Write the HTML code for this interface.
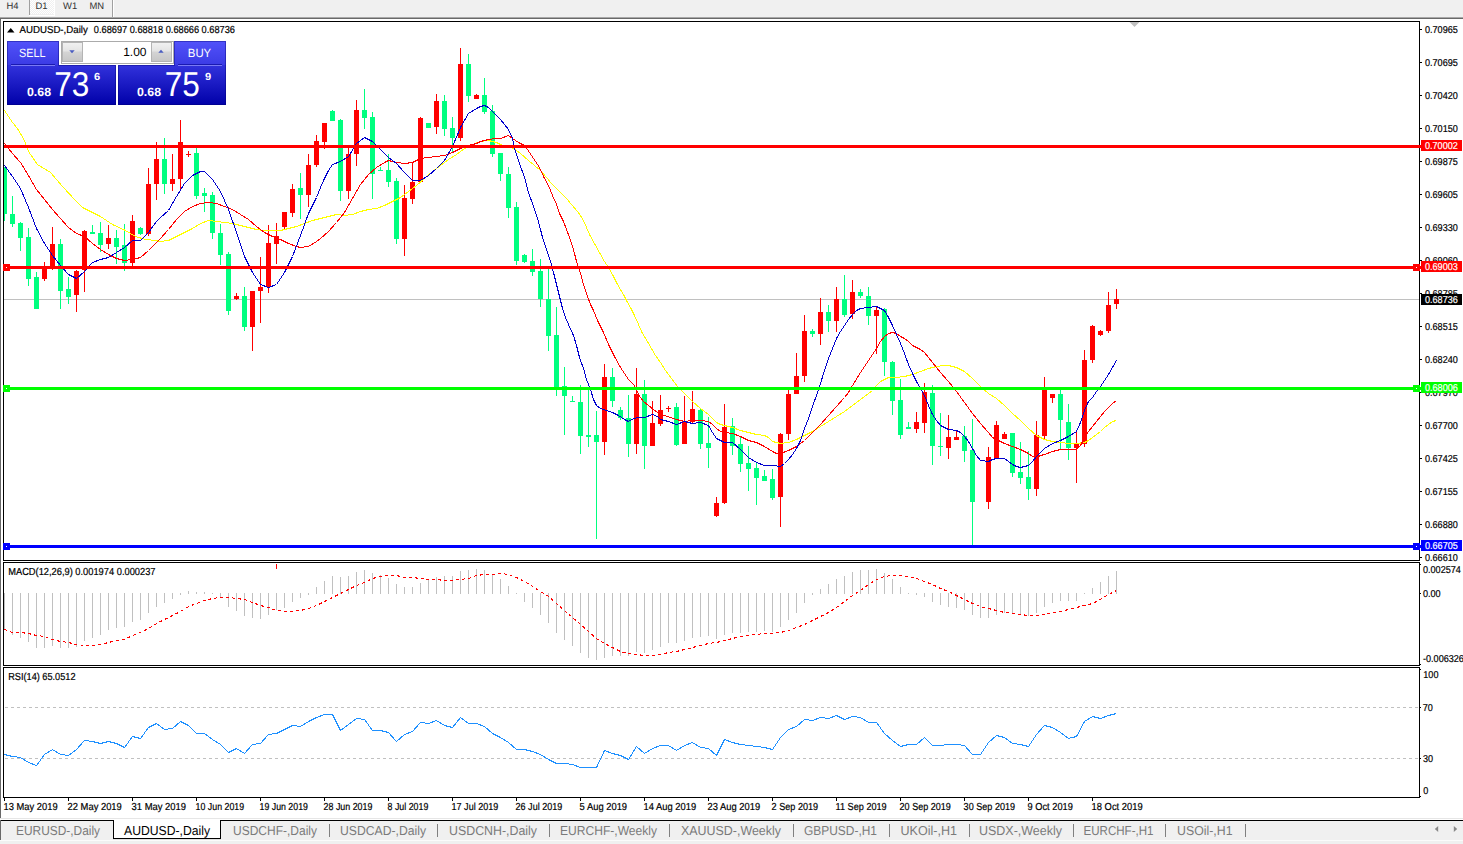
<!DOCTYPE html>
<html><head><meta charset="utf-8"><title>AUDUSD Daily</title>
<style>html,body{margin:0;padding:0;background:#fff;width:1463px;height:844px;overflow:hidden;font-family:"Liberation Sans",sans-serif}</style></head>
<body>
<svg width="1463" height="844" viewBox="0 0 1463 844" font-family="Liberation Sans, sans-serif" text-rendering="geometricPrecision" style="position:absolute;left:0;top:0;display:block">
<defs>
<linearGradient id="gbtn" x1="0" y1="0" x2="0" y2="1"><stop offset="0" stop-color="#5252fa"/><stop offset="1" stop-color="#3a3ae4"/></linearGradient>
<linearGradient id="gbig" x1="0" y1="0" x2="0" y2="1"><stop offset="0" stop-color="#3232dc"/><stop offset="1" stop-color="#0000a8"/></linearGradient>
<linearGradient id="gsp" x1="0" y1="0" x2="0" y2="1"><stop offset="0" stop-color="#f2f2f2"/><stop offset="0.45" stop-color="#e4e4e4"/><stop offset="0.5" stop-color="#d4d4d4"/><stop offset="1" stop-color="#c6c6c6"/></linearGradient>
</defs>
<g shape-rendering="crispEdges">
<rect x="0" y="0" width="1463" height="844" fill="#fff" />
<rect x="0" y="0" width="1463" height="17" fill="#f0f0f0" />
<rect x="0" y="17" width="1463" height="1" fill="#a8a8a8" />
<rect x="0" y="18" width="1463" height="1" fill="#696969" />
<rect x="29" y="0" width="1" height="15" fill="#a0a0a0" />
<pattern id="chk" x="0" y="0" width="2" height="2" patternUnits="userSpaceOnUse"><rect width="2" height="2" fill="#f0f0f0"/><rect x="0" y="0" width="1" height="1" fill="#fff"/><rect x="1" y="1" width="1" height="1" fill="#fff"/></pattern>
<rect x="30" y="0" width="24" height="14" fill="url(#chk)" />
<rect x="54" y="0" width="1" height="15" fill="#fff" />
<rect x="29" y="15" width="26" height="1" fill="#fff" />
<rect x="112" y="0" width="1" height="17" fill="#a0a0a0" />
<rect x="113" y="0" width="1" height="17" fill="#ffffff" />
<rect x="0" y="18" width="1" height="801" fill="#696969" />
<rect x="0" y="821" width="1463" height="23" fill="#f0f0f0" />
<rect x="0" y="818" width="1463" height="1" fill="#e6e6e6" />
<rect x="0" y="840" width="1463" height="1" fill="#fbfbfb" />
<rect x="4" y="299" width="1415" height="1" fill="#c0c0c0" />
<clipPath id="cc"><rect x="4" y="22" width="1415" height="538"/></clipPath><g clip-path="url(#cc)">
<rect x="4" y="167" width="1" height="54" fill="#00ff7f" />
<rect x="2" y="167" width="5" height="47" fill="#00ff7f" />
<rect x="12" y="196" width="1" height="31" fill="#00ff7f" />
<rect x="10" y="214" width="5" height="10" fill="#00ff7f" />
<rect x="20" y="222" width="1" height="29" fill="#00ff7f" />
<rect x="18" y="223" width="5" height="15" fill="#00ff7f" />
<rect x="28" y="228" width="1" height="58" fill="#00ff7f" />
<rect x="26" y="237" width="5" height="42" fill="#00ff7f" />
<rect x="36" y="272" width="1" height="37" fill="#00ff7f" />
<rect x="34" y="277" width="5" height="32" fill="#00ff7f" />
<rect x="44" y="262" width="1" height="19" fill="#ff0000" />
<rect x="42" y="269" width="5" height="10" fill="#ff0000" />
<rect x="52" y="227" width="1" height="43" fill="#ff0000" />
<rect x="50" y="244" width="5" height="25" fill="#ff0000" />
<rect x="60" y="239" width="1" height="70" fill="#00ff7f" />
<rect x="58" y="244" width="5" height="47" fill="#00ff7f" />
<rect x="68" y="277" width="1" height="27" fill="#00ff7f" />
<rect x="66" y="289" width="5" height="8" fill="#00ff7f" />
<rect x="76" y="270" width="1" height="42" fill="#ff0000" />
<rect x="74" y="271" width="5" height="24" fill="#ff0000" />
<rect x="84" y="230" width="1" height="62" fill="#ff0000" />
<rect x="82" y="231" width="5" height="39" fill="#ff0000" />
<rect x="92" y="225" width="1" height="9" fill="#00ff7f" />
<rect x="90" y="232" width="5" height="2" fill="#00ff7f" />
<rect x="100" y="222" width="1" height="30" fill="#00ff7f" />
<rect x="98" y="233" width="5" height="12" fill="#00ff7f" />
<rect x="108" y="225" width="1" height="24" fill="#ff0000" />
<rect x="106" y="238" width="5" height="6" fill="#ff0000" />
<rect x="116" y="230" width="1" height="34" fill="#00ff7f" />
<rect x="114" y="238" width="5" height="9" fill="#00ff7f" />
<rect x="124" y="224" width="1" height="47" fill="#00ff7f" />
<rect x="122" y="245" width="5" height="18" fill="#00ff7f" />
<rect x="132" y="215" width="1" height="51" fill="#ff0000" />
<rect x="130" y="221" width="5" height="42" fill="#ff0000" />
<rect x="140" y="227" width="1" height="8" fill="#00ff7f" />
<rect x="138" y="228" width="5" height="6" fill="#00ff7f" />
<rect x="148" y="168" width="1" height="68" fill="#ff0000" />
<rect x="146" y="184" width="5" height="50" fill="#ff0000" />
<rect x="156" y="142" width="1" height="58" fill="#ff0000" />
<rect x="154" y="159" width="5" height="25" fill="#ff0000" />
<rect x="164" y="138" width="1" height="56" fill="#00ff7f" />
<rect x="162" y="159" width="5" height="25" fill="#00ff7f" />
<rect x="172" y="154" width="1" height="37" fill="#ff0000" />
<rect x="170" y="179" width="5" height="5" fill="#ff0000" />
<rect x="180" y="120" width="1" height="71" fill="#ff0000" />
<rect x="178" y="142" width="5" height="37" fill="#ff0000" />
<rect x="188" y="151" width="1" height="6" fill="#ff0000" />
<rect x="186" y="154" width="5" height="1" fill="#ff0000" />
<rect x="196" y="148" width="1" height="51" fill="#00ff7f" />
<rect x="194" y="153" width="5" height="43" fill="#00ff7f" />
<rect x="204" y="188" width="1" height="24" fill="#00ff7f" />
<rect x="202" y="193" width="5" height="3" fill="#00ff7f" />
<rect x="212" y="192" width="1" height="47" fill="#00ff7f" />
<rect x="210" y="195" width="5" height="38" fill="#00ff7f" />
<rect x="220" y="224" width="1" height="41" fill="#00ff7f" />
<rect x="218" y="233" width="5" height="22" fill="#00ff7f" />
<rect x="228" y="252" width="1" height="63" fill="#00ff7f" />
<rect x="226" y="254" width="5" height="57" fill="#00ff7f" />
<rect x="236" y="293" width="1" height="7" fill="#ff0000" />
<rect x="234" y="296" width="5" height="3" fill="#ff0000" />
<rect x="244" y="287" width="1" height="44" fill="#00ff7f" />
<rect x="242" y="296" width="5" height="31" fill="#00ff7f" />
<rect x="252" y="291" width="1" height="60" fill="#ff0000" />
<rect x="250" y="291" width="5" height="36" fill="#ff0000" />
<rect x="260" y="257" width="1" height="66" fill="#ff0000" />
<rect x="258" y="287" width="5" height="4" fill="#ff0000" />
<rect x="268" y="225" width="1" height="68" fill="#ff0000" />
<rect x="266" y="243" width="5" height="44" fill="#ff0000" />
<rect x="276" y="223" width="1" height="41" fill="#ff0000" />
<rect x="274" y="236" width="5" height="8" fill="#ff0000" />
<rect x="284" y="212" width="1" height="18" fill="#ff0000" />
<rect x="282" y="212" width="5" height="15" fill="#ff0000" />
<rect x="292" y="184" width="1" height="33" fill="#ff0000" />
<rect x="290" y="189" width="5" height="24" fill="#ff0000" />
<rect x="300" y="173" width="1" height="46" fill="#00ff7f" />
<rect x="298" y="188" width="5" height="7" fill="#00ff7f" />
<rect x="308" y="154" width="1" height="53" fill="#ff0000" />
<rect x="306" y="165" width="5" height="30" fill="#ff0000" />
<rect x="316" y="135" width="1" height="32" fill="#ff0000" />
<rect x="314" y="141" width="5" height="24" fill="#ff0000" />
<rect x="324" y="123" width="1" height="26" fill="#ff0000" />
<rect x="322" y="123" width="5" height="19" fill="#ff0000" />
<rect x="332" y="110" width="1" height="11" fill="#00ff7f" />
<rect x="330" y="111" width="5" height="10" fill="#00ff7f" />
<rect x="340" y="119" width="1" height="82" fill="#00ff7f" />
<rect x="338" y="120" width="5" height="71" fill="#00ff7f" />
<rect x="348" y="148" width="1" height="51" fill="#ff0000" />
<rect x="346" y="154" width="5" height="37" fill="#ff0000" />
<rect x="356" y="100" width="1" height="66" fill="#ff0000" />
<rect x="354" y="110" width="5" height="44" fill="#ff0000" />
<rect x="364" y="89" width="1" height="40" fill="#00ff7f" />
<rect x="362" y="110" width="5" height="8" fill="#00ff7f" />
<rect x="372" y="112" width="1" height="87" fill="#00ff7f" />
<rect x="370" y="117" width="5" height="57" fill="#00ff7f" />
<rect x="380" y="167" width="1" height="3" fill="#00ff7f" />
<rect x="378" y="170" width="5" height="1" fill="#00ff7f" />
<rect x="388" y="154" width="1" height="33" fill="#00ff7f" />
<rect x="386" y="170" width="5" height="12" fill="#00ff7f" />
<rect x="396" y="178" width="1" height="66" fill="#00ff7f" />
<rect x="394" y="181" width="5" height="58" fill="#00ff7f" />
<rect x="404" y="185" width="1" height="71" fill="#ff0000" />
<rect x="402" y="198" width="5" height="41" fill="#ff0000" />
<rect x="412" y="162" width="1" height="42" fill="#ff0000" />
<rect x="410" y="182" width="5" height="17" fill="#ff0000" />
<rect x="420" y="117" width="1" height="65" fill="#ff0000" />
<rect x="418" y="118" width="5" height="64" fill="#ff0000" />
<rect x="428" y="123" width="1" height="5" fill="#00ff7f" />
<rect x="426" y="123" width="5" height="5" fill="#00ff7f" />
<rect x="436" y="94" width="1" height="40" fill="#ff0000" />
<rect x="434" y="101" width="5" height="26" fill="#ff0000" />
<rect x="444" y="95" width="1" height="41" fill="#00ff7f" />
<rect x="442" y="101" width="5" height="28" fill="#00ff7f" />
<rect x="452" y="117" width="1" height="35" fill="#00ff7f" />
<rect x="450" y="128" width="5" height="10" fill="#00ff7f" />
<rect x="460" y="48" width="1" height="93" fill="#ff0000" />
<rect x="458" y="64" width="5" height="74" fill="#ff0000" />
<rect x="468" y="54" width="1" height="48" fill="#00ff7f" />
<rect x="466" y="64" width="5" height="32" fill="#00ff7f" />
<rect x="476" y="94" width="1" height="5" fill="#ff0000" />
<rect x="474" y="95" width="5" height="4" fill="#ff0000" />
<rect x="484" y="78" width="1" height="36" fill="#00ff7f" />
<rect x="482" y="95" width="5" height="17" fill="#00ff7f" />
<rect x="492" y="105" width="1" height="52" fill="#00ff7f" />
<rect x="490" y="111" width="5" height="43" fill="#00ff7f" />
<rect x="500" y="153" width="1" height="28" fill="#00ff7f" />
<rect x="498" y="153" width="5" height="21" fill="#00ff7f" />
<rect x="508" y="167" width="1" height="51" fill="#00ff7f" />
<rect x="506" y="174" width="5" height="34" fill="#00ff7f" />
<rect x="516" y="202" width="1" height="63" fill="#00ff7f" />
<rect x="514" y="207" width="5" height="54" fill="#00ff7f" />
<rect x="524" y="254" width="1" height="9" fill="#00ff7f" />
<rect x="522" y="255" width="5" height="7" fill="#00ff7f" />
<rect x="532" y="249" width="1" height="27" fill="#00ff7f" />
<rect x="530" y="261" width="5" height="11" fill="#00ff7f" />
<rect x="540" y="259" width="1" height="48" fill="#00ff7f" />
<rect x="538" y="271" width="5" height="28" fill="#00ff7f" />
<rect x="548" y="268" width="1" height="83" fill="#00ff7f" />
<rect x="546" y="299" width="5" height="37" fill="#00ff7f" />
<rect x="556" y="307" width="1" height="89" fill="#00ff7f" />
<rect x="554" y="335" width="5" height="54" fill="#00ff7f" />
<rect x="564" y="367" width="1" height="68" fill="#00ff7f" />
<rect x="562" y="386" width="5" height="10" fill="#00ff7f" />
<rect x="572" y="396" width="1" height="6" fill="#00ff7f" />
<rect x="570" y="401" width="5" height="1" fill="#00ff7f" />
<rect x="580" y="385" width="1" height="69" fill="#00ff7f" />
<rect x="578" y="402" width="5" height="34" fill="#00ff7f" />
<rect x="588" y="389" width="1" height="58" fill="#00ff7f" />
<rect x="586" y="435" width="5" height="2" fill="#00ff7f" />
<rect x="596" y="411" width="1" height="128" fill="#00ff7f" />
<rect x="594" y="435" width="5" height="7" fill="#00ff7f" />
<rect x="604" y="364" width="1" height="91" fill="#ff0000" />
<rect x="602" y="377" width="5" height="65" fill="#ff0000" />
<rect x="612" y="368" width="1" height="39" fill="#00ff7f" />
<rect x="610" y="377" width="5" height="24" fill="#00ff7f" />
<rect x="620" y="407" width="1" height="13" fill="#00ff7f" />
<rect x="618" y="410" width="5" height="8" fill="#00ff7f" />
<rect x="628" y="395" width="1" height="62" fill="#00ff7f" />
<rect x="626" y="418" width="5" height="26" fill="#00ff7f" />
<rect x="636" y="368" width="1" height="86" fill="#ff0000" />
<rect x="634" y="394" width="5" height="50" fill="#ff0000" />
<rect x="644" y="380" width="1" height="89" fill="#00ff7f" />
<rect x="642" y="394" width="5" height="52" fill="#00ff7f" />
<rect x="652" y="401" width="1" height="45" fill="#ff0000" />
<rect x="650" y="423" width="5" height="23" fill="#ff0000" />
<rect x="660" y="395" width="1" height="31" fill="#ff0000" />
<rect x="658" y="410" width="5" height="14" fill="#ff0000" />
<rect x="668" y="406" width="1" height="6" fill="#ff0000" />
<rect x="666" y="408" width="5" height="1" fill="#ff0000" />
<rect x="676" y="403" width="1" height="43" fill="#00ff7f" />
<rect x="674" y="407" width="5" height="38" fill="#00ff7f" />
<rect x="684" y="396" width="1" height="48" fill="#ff0000" />
<rect x="682" y="422" width="5" height="22" fill="#ff0000" />
<rect x="692" y="391" width="1" height="32" fill="#ff0000" />
<rect x="690" y="409" width="5" height="13" fill="#ff0000" />
<rect x="700" y="408" width="1" height="41" fill="#00ff7f" />
<rect x="698" y="410" width="5" height="34" fill="#00ff7f" />
<rect x="708" y="417" width="1" height="51" fill="#00ff7f" />
<rect x="706" y="443" width="5" height="5" fill="#00ff7f" />
<rect x="716" y="497" width="1" height="20" fill="#ff0000" />
<rect x="714" y="503" width="5" height="13" fill="#ff0000" />
<rect x="724" y="404" width="1" height="100" fill="#ff0000" />
<rect x="722" y="427" width="5" height="76" fill="#ff0000" />
<rect x="732" y="418" width="1" height="37" fill="#00ff7f" />
<rect x="730" y="426" width="5" height="20" fill="#00ff7f" />
<rect x="740" y="436" width="1" height="36" fill="#00ff7f" />
<rect x="738" y="444" width="5" height="20" fill="#00ff7f" />
<rect x="748" y="446" width="1" height="45" fill="#00ff7f" />
<rect x="746" y="463" width="5" height="6" fill="#00ff7f" />
<rect x="756" y="463" width="1" height="42" fill="#00ff7f" />
<rect x="754" y="468" width="5" height="10" fill="#00ff7f" />
<rect x="764" y="470" width="1" height="11" fill="#00ff7f" />
<rect x="762" y="476" width="5" height="5" fill="#00ff7f" />
<rect x="772" y="469" width="1" height="31" fill="#00ff7f" />
<rect x="770" y="479" width="5" height="19" fill="#00ff7f" />
<rect x="780" y="433" width="1" height="94" fill="#ff0000" />
<rect x="778" y="434" width="5" height="63" fill="#ff0000" />
<rect x="788" y="390" width="1" height="50" fill="#ff0000" />
<rect x="786" y="394" width="5" height="40" fill="#ff0000" />
<rect x="796" y="353" width="1" height="41" fill="#ff0000" />
<rect x="794" y="376" width="5" height="18" fill="#ff0000" />
<rect x="804" y="315" width="1" height="67" fill="#ff0000" />
<rect x="802" y="331" width="5" height="45" fill="#ff0000" />
<rect x="812" y="329" width="1" height="8" fill="#00ff7f" />
<rect x="810" y="331" width="5" height="3" fill="#00ff7f" />
<rect x="820" y="298" width="1" height="47" fill="#ff0000" />
<rect x="818" y="312" width="5" height="22" fill="#ff0000" />
<rect x="828" y="305" width="1" height="27" fill="#00ff7f" />
<rect x="826" y="312" width="5" height="9" fill="#00ff7f" />
<rect x="836" y="287" width="1" height="45" fill="#ff0000" />
<rect x="834" y="299" width="5" height="22" fill="#ff0000" />
<rect x="844" y="275" width="1" height="42" fill="#00ff7f" />
<rect x="842" y="299" width="5" height="16" fill="#00ff7f" />
<rect x="852" y="280" width="1" height="39" fill="#ff0000" />
<rect x="850" y="292" width="5" height="22" fill="#ff0000" />
<rect x="860" y="289" width="1" height="9" fill="#00ff7f" />
<rect x="858" y="292" width="5" height="4" fill="#00ff7f" />
<rect x="868" y="287" width="1" height="38" fill="#00ff7f" />
<rect x="866" y="296" width="5" height="20" fill="#00ff7f" />
<rect x="876" y="306" width="1" height="48" fill="#ff0000" />
<rect x="874" y="310" width="5" height="6" fill="#ff0000" />
<rect x="884" y="308" width="1" height="68" fill="#00ff7f" />
<rect x="882" y="309" width="5" height="53" fill="#00ff7f" />
<rect x="892" y="361" width="1" height="54" fill="#00ff7f" />
<rect x="890" y="362" width="5" height="39" fill="#00ff7f" />
<rect x="900" y="379" width="1" height="60" fill="#00ff7f" />
<rect x="898" y="400" width="5" height="35" fill="#00ff7f" />
<rect x="908" y="422" width="1" height="7" fill="#00ff7f" />
<rect x="906" y="427" width="5" height="2" fill="#00ff7f" />
<rect x="916" y="412" width="1" height="21" fill="#ff0000" />
<rect x="914" y="422" width="5" height="7" fill="#ff0000" />
<rect x="924" y="383" width="1" height="50" fill="#ff0000" />
<rect x="922" y="392" width="5" height="31" fill="#ff0000" />
<rect x="932" y="385" width="1" height="80" fill="#00ff7f" />
<rect x="930" y="393" width="5" height="53" fill="#00ff7f" />
<rect x="940" y="413" width="1" height="43" fill="#00ff7f" />
<rect x="938" y="446" width="5" height="1" fill="#00ff7f" />
<rect x="948" y="415" width="1" height="44" fill="#ff0000" />
<rect x="946" y="437" width="5" height="11" fill="#ff0000" />
<rect x="956" y="430" width="1" height="10" fill="#ff0000" />
<rect x="954" y="437" width="5" height="3" fill="#ff0000" />
<rect x="964" y="426" width="1" height="36" fill="#00ff7f" />
<rect x="962" y="436" width="5" height="15" fill="#00ff7f" />
<rect x="972" y="419" width="1" height="126" fill="#00ff7f" />
<rect x="970" y="450" width="5" height="52" fill="#00ff7f" />
<rect x="988" y="447" width="1" height="62" fill="#ff0000" />
<rect x="986" y="457" width="5" height="45" fill="#ff0000" />
<rect x="996" y="421" width="1" height="37" fill="#ff0000" />
<rect x="994" y="425" width="5" height="33" fill="#ff0000" />
<rect x="1004" y="432" width="1" height="7" fill="#ff0000" />
<rect x="1002" y="434" width="5" height="5" fill="#ff0000" />
<rect x="1012" y="433" width="1" height="44" fill="#00ff7f" />
<rect x="1010" y="433" width="5" height="40" fill="#00ff7f" />
<rect x="1020" y="442" width="1" height="42" fill="#00ff7f" />
<rect x="1018" y="472" width="5" height="6" fill="#00ff7f" />
<rect x="1028" y="451" width="1" height="49" fill="#00ff7f" />
<rect x="1026" y="477" width="5" height="12" fill="#00ff7f" />
<rect x="1036" y="421" width="1" height="75" fill="#ff0000" />
<rect x="1034" y="435" width="5" height="54" fill="#ff0000" />
<rect x="1044" y="377" width="1" height="63" fill="#ff0000" />
<rect x="1042" y="389" width="5" height="47" fill="#ff0000" />
<rect x="1052" y="394" width="1" height="9" fill="#ff0000" />
<rect x="1050" y="394" width="5" height="4" fill="#ff0000" />
<rect x="1060" y="389" width="1" height="60" fill="#00ff7f" />
<rect x="1058" y="394" width="5" height="26" fill="#00ff7f" />
<rect x="1068" y="404" width="1" height="56" fill="#00ff7f" />
<rect x="1066" y="422" width="5" height="26" fill="#00ff7f" />
<rect x="1076" y="432" width="1" height="51" fill="#ff0000" />
<rect x="1074" y="443" width="5" height="5" fill="#ff0000" />
<rect x="1084" y="350" width="1" height="97" fill="#ff0000" />
<rect x="1082" y="360" width="5" height="84" fill="#ff0000" />
<rect x="1092" y="325" width="1" height="38" fill="#ff0000" />
<rect x="1090" y="326" width="5" height="34" fill="#ff0000" />
<rect x="1100" y="330" width="1" height="6" fill="#ff0000" />
<rect x="1098" y="331" width="5" height="4" fill="#ff0000" />
<rect x="1108" y="292" width="1" height="41" fill="#ff0000" />
<rect x="1106" y="305" width="5" height="26" fill="#ff0000" />
<rect x="1116" y="289" width="1" height="20" fill="#ff0000" />
<rect x="1114" y="299" width="5" height="5" fill="#ff0000" />
</g></g>
<clipPath id="cm"><rect x="4" y="22" width="1415" height="538"/></clipPath>
<g clip-path="url(#cm)">
<polyline points="4.5,110.5 12.5,122.5 17.5,128.5 24.5,140.5 28.5,151.5 37.5,164.5 50.5,172.5 62.5,186.5 75.5,200.5 82.5,207.5 100.5,216.5 112.5,224.5 125.5,230.5 135.5,236.5 145.5,239.5 155.5,240.5 160.5,241.5 168.5,240.5 176.5,236.5 184.5,232.5 192.5,228.5 200.5,223.5 208.5,220.5 216.5,221.5 224.5,222.5 232.5,223.5 240.5,225.5 248.5,227.5 256.5,229.5 264.5,230.5 272.5,230.5 280.5,230.5 288.5,228.5 296.5,226.5 304.5,223.5 312.5,220.5 320.5,218.5 328.5,216.5 336.5,214.5 344.5,215.5 352.5,214.5 360.5,211.5 368.5,209.5 376.5,208.5 384.5,205.5 392.5,201.5 400.5,197.5 408.5,191.5 416.5,185.5 424.5,178.5 432.5,171.5 440.5,165.5 448.5,159.5 456.5,154.5 464.5,148.5 472.5,144.5 480.5,141.5 488.5,140.5 496.5,142.5 500.5,144.5 513.5,148.5 520.5,153.5 528.5,160.5 534.5,165.5 540.5,170.5 546.5,177.5 551.5,183.5 555.5,187.5 560.5,192.5 566.5,198.5 571.5,204.5 577.5,211.5 582.5,218.5 586.5,227.5 589.5,234.5 594.5,243.5 599.5,252.5 604.5,261.5 608.5,267.5 612.5,274.5 616.5,282.5 620.5,289.5 624.5,296.5 627.5,302.5 630.5,307.5 634.5,315.5 638.5,324.5 642.5,333.5 647.5,341.5 651.5,348.5 655.5,355.5 660.5,362.5 665.5,370.5 671.5,378.5 677.5,386.5 684.5,393.5 692.5,401.5 700.5,408.5 708.5,414.5 712.5,418.5 716.5,422.5 720.5,424.5 724.5,425.5 732.5,427.5 740.5,430.5 748.5,432.5 756.5,434.5 764.5,435.5 768.5,437.5 772.5,441.5 780.5,443.5 788.5,442.5 796.5,439.5 804.5,435.5 812.5,431.5 820.5,426.5 828.5,421.5 836.5,416.5 844.5,411.5 852.5,405.5 860.5,399.5 868.5,393.5 872.5,390.5 876.5,385.5 880.5,381.5 884.5,379.5 888.5,377.5 896.5,377.5 904.5,376.5 912.5,374.5 920.5,371.5 928.5,368.5 936.5,366.5 944.5,365.5 948.5,365.5 956.5,367.5 964.5,371.5 972.5,378.5 980.5,386.5 988.5,393.5 996.5,398.5 1004.5,405.5 1012.5,413.5 1020.5,420.5 1028.5,428.5 1036.5,435.5 1044.5,439.5 1052.5,441.5 1060.5,442.5 1068.5,443.5 1076.5,443.5 1084.5,442.5 1088.5,440.5 1092.5,437.5 1096.5,434.5 1100.5,431.5 1104.5,427.5 1108.5,424.5 1112.5,421.5 1116.5,420.5" fill="none" stroke="#ffff00" stroke-width="1" shape-rendering="crispEdges"/>
<polyline points="4.5,143.5 8.5,148.5 12.5,153.5 20.5,162.5 28.5,175.5 36.5,189.5 44.5,199.5 52.5,209.5 60.5,218.5 68.5,227.5 76.5,233.5 84.5,236.5 92.5,243.5 100.5,249.5 108.5,254.5 116.5,258.5 124.5,260.5 132.5,259.5 140.5,257.5 148.5,250.5 156.5,242.5 160.5,238.5 168.5,229.5 176.5,219.5 184.5,211.5 192.5,206.5 200.5,203.5 208.5,202.5 216.5,203.5 224.5,206.5 232.5,209.5 240.5,214.5 248.5,219.5 256.5,226.5 264.5,232.5 272.5,236.5 280.5,239.5 288.5,243.5 296.5,246.5 300.5,247.5 308.5,246.5 316.5,241.5 320.5,238.5 328.5,231.5 336.5,222.5 344.5,212.5 352.5,198.5 360.5,184.5 368.5,174.5 376.5,167.5 384.5,162.5 388.5,160.5 396.5,162.5 404.5,163.5 412.5,162.5 420.5,158.5 428.5,157.5 436.5,156.5 444.5,155.5 452.5,152.5 460.5,148.5 468.5,145.5 476.5,143.5 480.5,141.5 488.5,139.5 496.5,138.5 500.5,138.5 508.5,135.5 512.5,138.5 518.5,142.5 524.5,145.5 527.5,149.5 531.5,155.5 535.5,161.5 539.5,167.5 543.5,176.5 548.5,185.5 552.5,195.5 556.5,204.5 559.5,213.5 563.5,221.5 566.5,229.5 569.5,237.5 573.5,249.5 576.5,261.5 580.5,273.5 583.5,284.5 587.5,296.5 590.5,304.5 593.5,310.5 597.5,320.5 603.5,332.5 608.5,344.5 614.5,356.5 620.5,367.5 624.5,373.5 628.5,379.5 634.5,385.5 637.5,392.5 640.5,397.5 643.5,401.5 648.5,405.5 653.5,409.5 660.5,414.5 667.5,416.5 676.5,419.5 684.5,421.5 692.5,420.5 700.5,420.5 708.5,421.5 712.5,424.5 716.5,428.5 720.5,431.5 724.5,432.5 732.5,433.5 740.5,436.5 748.5,440.5 756.5,442.5 764.5,446.5 772.5,451.5 776.5,453.5 780.5,453.5 788.5,450.5 796.5,446.5 804.5,440.5 812.5,432.5 820.5,424.5 828.5,415.5 836.5,406.5 844.5,397.5 848.5,392.5 852.5,385.5 860.5,372.5 868.5,360.5 876.5,348.5 880.5,341.5 884.5,336.5 888.5,333.5 892.5,332.5 896.5,333.5 900.5,336.5 904.5,338.5 908.5,341.5 912.5,345.5 916.5,347.5 920.5,349.5 924.5,352.5 928.5,357.5 932.5,362.5 936.5,367.5 940.5,372.5 948.5,381.5 956.5,391.5 964.5,402.5 972.5,413.5 980.5,423.5 988.5,432.5 992.5,437.5 996.5,439.5 1000.5,441.5 1004.5,443.5 1012.5,446.5 1020.5,449.5 1028.5,453.5 1032.5,456.5 1036.5,457.5 1040.5,455.5 1044.5,454.5 1052.5,451.5 1060.5,449.5 1068.5,449.5 1076.5,449.5 1080.5,445.5 1084.5,437.5 1088.5,431.5 1092.5,426.5 1096.5,421.5 1100.5,416.5 1104.5,411.5 1108.5,407.5 1112.5,403.5 1116.5,400.5" fill="none" stroke="#ff0000" stroke-width="1" shape-rendering="crispEdges"/>
<polyline points="4.5,165.5 12.5,176.5 20.5,188.5 28.5,207.5 36.5,228.5 44.5,243.5 52.5,255.5 60.5,265.5 68.5,274.5 76.5,278.5 84.5,271.5 92.5,262.5 100.5,259.5 108.5,257.5 116.5,252.5 124.5,247.5 132.5,240.5 140.5,240.5 148.5,232.5 156.5,221.5 160.5,217.5 168.5,210.5 176.5,196.5 184.5,183.5 192.5,175.5 200.5,171.5 204.5,171.5 212.5,179.5 220.5,191.5 228.5,209.5 236.5,232.5 244.5,256.5 252.5,272.5 260.5,284.5 268.5,287.5 276.5,284.5 284.5,272.5 292.5,256.5 300.5,235.5 308.5,213.5 316.5,197.5 320.5,187.5 324.5,178.5 328.5,170.5 332.5,164.5 340.5,161.5 348.5,156.5 356.5,143.5 364.5,137.5 372.5,141.5 380.5,149.5 388.5,157.5 396.5,163.5 404.5,172.5 412.5,180.5 420.5,180.5 428.5,175.5 436.5,168.5 444.5,160.5 452.5,146.5 460.5,127.5 468.5,113.5 476.5,108.5 480.5,106.5 484.5,105.5 488.5,107.5 492.5,111.5 500.5,119.5 508.5,129.5 512.5,138.5 514.5,148.5 519.5,163.5 524.5,177.5 528.5,192.5 533.5,206.5 537.5,218.5 540.5,229.5 542.5,237.5 546.5,249.5 550.5,261.5 553.5,272.5 556.5,284.5 559.5,296.5 562.5,308.5 565.5,317.5 568.5,324.5 573.5,335.5 576.5,345.5 579.5,357.5 583.5,368.5 586.5,379.5 590.5,389.5 593.5,399.5 596.5,405.5 600.5,408.5 606.5,410.5 612.5,412.5 618.5,415.5 624.5,419.5 628.5,421.5 631.5,419.5 637.5,417.5 644.5,417.5 652.5,414.5 657.5,416.5 660.5,419.5 668.5,421.5 676.5,424.5 684.5,421.5 692.5,423.5 700.5,422.5 708.5,425.5 712.5,432.5 716.5,438.5 720.5,440.5 724.5,442.5 732.5,442.5 740.5,449.5 748.5,457.5 756.5,462.5 764.5,465.5 772.5,465.5 780.5,466.5 784.5,463.5 788.5,459.5 792.5,454.5 796.5,448.5 800.5,440.5 804.5,428.5 808.5,418.5 812.5,406.5 816.5,395.5 820.5,383.5 824.5,370.5 828.5,358.5 832.5,348.5 836.5,338.5 840.5,331.5 844.5,325.5 848.5,319.5 852.5,314.5 856.5,310.5 860.5,308.5 868.5,307.5 876.5,306.5 880.5,308.5 884.5,310.5 888.5,317.5 892.5,325.5 896.5,334.5 900.5,343.5 904.5,353.5 908.5,364.5 912.5,373.5 916.5,381.5 920.5,388.5 924.5,395.5 928.5,405.5 932.5,414.5 936.5,420.5 940.5,425.5 944.5,427.5 948.5,429.5 956.5,430.5 960.5,432.5 964.5,436.5 968.5,441.5 972.5,448.5 976.5,455.5 980.5,460.5 988.5,461.5 992.5,459.5 996.5,458.5 1004.5,458.5 1008.5,461.5 1012.5,464.5 1016.5,466.5 1020.5,467.5 1024.5,466.5 1028.5,465.5 1032.5,461.5 1036.5,456.5 1044.5,448.5 1052.5,443.5 1060.5,440.5 1068.5,436.5 1076.5,431.5 1080.5,422.5 1084.5,410.5 1088.5,401.5 1092.5,397.5 1096.5,391.5 1100.5,386.5 1104.5,380.5 1108.5,374.5 1112.5,367.5 1116.5,360.5" fill="none" stroke="#0000cd" stroke-width="1" shape-rendering="crispEdges"/>
</g>
<g shape-rendering="crispEdges">
<rect x="3" y="21" width="1" height="777" fill="#000" />
<rect x="1419" y="21" width="1" height="777" fill="#000" />
<rect x="3" y="21" width="1417" height="1" fill="#000" />
<rect x="3" y="560" width="1417" height="1" fill="#000" />
<rect x="3" y="562" width="1417" height="1" fill="#000" />
<rect x="3" y="665" width="1417" height="1" fill="#000" />
<rect x="3" y="667" width="1417" height="1" fill="#000" />
<rect x="3" y="797" width="1417" height="1" fill="#000" />
<rect x="3" y="561" width="1" height="1" fill="#fff" />
<rect x="3" y="666" width="1" height="1" fill="#fff" />
<rect x="1419" y="561" width="1" height="1" fill="#fff" />
<rect x="1419" y="666" width="1" height="1" fill="#fff" />
<rect x="4" y="145" width="1417" height="3" fill="#ff0000" />
<rect x="4" y="266" width="1417" height="3" fill="#ff0000" />
<rect x="3" y="264" width="7" height="7" fill="#ff0000" />
<rect x="6" y="267" width="1" height="1" fill="#fff" />
<rect x="1413" y="264" width="7" height="7" fill="#ff0000" />
<rect x="1416" y="267" width="1" height="1" fill="#fff" />
<rect x="4" y="387" width="1417" height="3" fill="#00ff00" />
<rect x="3" y="385" width="7" height="7" fill="#00ff00" />
<rect x="6" y="388" width="1" height="1" fill="#fff" />
<rect x="1413" y="385" width="7" height="7" fill="#00ff00" />
<rect x="1416" y="388" width="1" height="1" fill="#fff" />
<rect x="4" y="545" width="1417" height="3" fill="#0000ff" />
<rect x="3" y="543" width="7" height="7" fill="#0000ff" />
<rect x="6" y="546" width="1" height="1" fill="#fff" />
<rect x="1413" y="543" width="7" height="7" fill="#0000ff" />
<rect x="1416" y="546" width="1" height="1" fill="#fff" />
<polygon points="1129.5,22 1139.5,22 1134.5,27" fill="#c0c0c0" shape-rendering="auto"/>
<rect x="1420" y="29" width="2" height="1" fill="#000" />
<rect x="1420" y="62" width="2" height="1" fill="#000" />
<rect x="1420" y="95" width="2" height="1" fill="#000" />
<rect x="1420" y="128" width="2" height="1" fill="#000" />
<rect x="1420" y="161" width="2" height="1" fill="#000" />
<rect x="1420" y="194" width="2" height="1" fill="#000" />
<rect x="1420" y="227" width="2" height="1" fill="#000" />
<rect x="1420" y="260" width="2" height="1" fill="#000" />
<rect x="1420" y="293" width="2" height="1" fill="#000" />
<rect x="1420" y="326" width="2" height="1" fill="#000" />
<rect x="1420" y="359" width="2" height="1" fill="#000" />
<rect x="1420" y="392" width="2" height="1" fill="#000" />
<rect x="1420" y="425" width="2" height="1" fill="#000" />
<rect x="1420" y="458" width="2" height="1" fill="#000" />
<rect x="1420" y="491" width="2" height="1" fill="#000" />
<rect x="1420" y="524" width="2" height="1" fill="#000" />
<rect x="1420" y="557" width="2" height="1" fill="#000" />
<rect x="4" y="593" width="1" height="37" fill="#c0c0c0" />
<rect x="12" y="593" width="1" height="42" fill="#c0c0c0" />
<rect x="20" y="593" width="1" height="45" fill="#c0c0c0" />
<rect x="28" y="593" width="1" height="49" fill="#c0c0c0" />
<rect x="36" y="593" width="1" height="55" fill="#c0c0c0" />
<rect x="44" y="593" width="1" height="55" fill="#c0c0c0" />
<rect x="52" y="593" width="1" height="53" fill="#c0c0c0" />
<rect x="60" y="593" width="1" height="55" fill="#c0c0c0" />
<rect x="68" y="593" width="1" height="55" fill="#c0c0c0" />
<rect x="76" y="593" width="1" height="54" fill="#c0c0c0" />
<rect x="84" y="593" width="1" height="48" fill="#c0c0c0" />
<rect x="92" y="593" width="1" height="45" fill="#c0c0c0" />
<rect x="100" y="593" width="1" height="42" fill="#c0c0c0" />
<rect x="108" y="593" width="1" height="37" fill="#c0c0c0" />
<rect x="116" y="593" width="1" height="35" fill="#c0c0c0" />
<rect x="124" y="593" width="1" height="34" fill="#c0c0c0" />
<rect x="132" y="593" width="1" height="29" fill="#c0c0c0" />
<rect x="140" y="593" width="1" height="27" fill="#c0c0c0" />
<rect x="148" y="593" width="1" height="20" fill="#c0c0c0" />
<rect x="156" y="593" width="1" height="14" fill="#c0c0c0" />
<rect x="164" y="593" width="1" height="10" fill="#c0c0c0" />
<rect x="172" y="593" width="1" height="6" fill="#c0c0c0" />
<rect x="180" y="593" width="1" height="2" fill="#c0c0c0" />
<rect x="188" y="591" width="1" height="3" fill="#c0c0c0" />
<rect x="196" y="592" width="1" height="2" fill="#c0c0c0" />
<rect x="204" y="592" width="1" height="2" fill="#c0c0c0" />
<rect x="212" y="593" width="1" height="1" fill="#c0c0c0" />
<rect x="220" y="593" width="1" height="4" fill="#c0c0c0" />
<rect x="228" y="593" width="1" height="14" fill="#c0c0c0" />
<rect x="236" y="593" width="1" height="18" fill="#c0c0c0" />
<rect x="244" y="593" width="1" height="23" fill="#c0c0c0" />
<rect x="252" y="593" width="1" height="25" fill="#c0c0c0" />
<rect x="260" y="593" width="1" height="26" fill="#c0c0c0" />
<rect x="268" y="593" width="1" height="22" fill="#c0c0c0" />
<rect x="276" y="593" width="1" height="17" fill="#c0c0c0" />
<rect x="284" y="593" width="1" height="15" fill="#c0c0c0" />
<rect x="292" y="593" width="1" height="9" fill="#c0c0c0" />
<rect x="300" y="593" width="1" height="5" fill="#c0c0c0" />
<rect x="308" y="593" width="1" height="2" fill="#c0c0c0" />
<rect x="316" y="587" width="1" height="7" fill="#c0c0c0" />
<rect x="324" y="581" width="1" height="13" fill="#c0c0c0" />
<rect x="332" y="576" width="1" height="18" fill="#c0c0c0" />
<rect x="340" y="577" width="1" height="17" fill="#c0c0c0" />
<rect x="348" y="576" width="1" height="18" fill="#c0c0c0" />
<rect x="356" y="572" width="1" height="22" fill="#c0c0c0" />
<rect x="364" y="570" width="1" height="24" fill="#c0c0c0" />
<rect x="372" y="573" width="1" height="21" fill="#c0c0c0" />
<rect x="380" y="575" width="1" height="19" fill="#c0c0c0" />
<rect x="388" y="578" width="1" height="16" fill="#c0c0c0" />
<rect x="396" y="584" width="1" height="10" fill="#c0c0c0" />
<rect x="404" y="587" width="1" height="7" fill="#c0c0c0" />
<rect x="412" y="587" width="1" height="7" fill="#c0c0c0" />
<rect x="420" y="583" width="1" height="11" fill="#c0c0c0" />
<rect x="428" y="580" width="1" height="14" fill="#c0c0c0" />
<rect x="436" y="577" width="1" height="17" fill="#c0c0c0" />
<rect x="444" y="576" width="1" height="18" fill="#c0c0c0" />
<rect x="452" y="576" width="1" height="18" fill="#c0c0c0" />
<rect x="460" y="571" width="1" height="23" fill="#c0c0c0" />
<rect x="468" y="570" width="1" height="24" fill="#c0c0c0" />
<rect x="476" y="569" width="1" height="25" fill="#c0c0c0" />
<rect x="484" y="570" width="1" height="24" fill="#c0c0c0" />
<rect x="492" y="574" width="1" height="20" fill="#c0c0c0" />
<rect x="500" y="579" width="1" height="15" fill="#c0c0c0" />
<rect x="508" y="586" width="1" height="8" fill="#c0c0c0" />
<rect x="516" y="593" width="1" height="1" fill="#c0c0c0" />
<rect x="524" y="593" width="1" height="9" fill="#c0c0c0" />
<rect x="532" y="593" width="1" height="15" fill="#c0c0c0" />
<rect x="540" y="593" width="1" height="22" fill="#c0c0c0" />
<rect x="548" y="593" width="1" height="30" fill="#c0c0c0" />
<rect x="556" y="593" width="1" height="40" fill="#c0c0c0" />
<rect x="564" y="593" width="1" height="47" fill="#c0c0c0" />
<rect x="572" y="593" width="1" height="53" fill="#c0c0c0" />
<rect x="580" y="593" width="1" height="60" fill="#c0c0c0" />
<rect x="588" y="593" width="1" height="65" fill="#c0c0c0" />
<rect x="596" y="593" width="1" height="67" fill="#c0c0c0" />
<rect x="604" y="593" width="1" height="65" fill="#c0c0c0" />
<rect x="612" y="593" width="1" height="63" fill="#c0c0c0" />
<rect x="620" y="593" width="1" height="63" fill="#c0c0c0" />
<rect x="628" y="593" width="1" height="63" fill="#c0c0c0" />
<rect x="636" y="593" width="1" height="59" fill="#c0c0c0" />
<rect x="644" y="593" width="1" height="60" fill="#c0c0c0" />
<rect x="652" y="593" width="1" height="57" fill="#c0c0c0" />
<rect x="660" y="593" width="1" height="54" fill="#c0c0c0" />
<rect x="668" y="593" width="1" height="50" fill="#c0c0c0" />
<rect x="676" y="593" width="1" height="50" fill="#c0c0c0" />
<rect x="684" y="593" width="1" height="48" fill="#c0c0c0" />
<rect x="692" y="593" width="1" height="45" fill="#c0c0c0" />
<rect x="700" y="593" width="1" height="44" fill="#c0c0c0" />
<rect x="708" y="593" width="1" height="43" fill="#c0c0c0" />
<rect x="716" y="593" width="1" height="46" fill="#c0c0c0" />
<rect x="724" y="593" width="1" height="42" fill="#c0c0c0" />
<rect x="732" y="593" width="1" height="40" fill="#c0c0c0" />
<rect x="740" y="593" width="1" height="40" fill="#c0c0c0" />
<rect x="748" y="593" width="1" height="39" fill="#c0c0c0" />
<rect x="756" y="593" width="1" height="39" fill="#c0c0c0" />
<rect x="764" y="593" width="1" height="38" fill="#c0c0c0" />
<rect x="772" y="593" width="1" height="39" fill="#c0c0c0" />
<rect x="780" y="593" width="1" height="34" fill="#c0c0c0" />
<rect x="788" y="593" width="1" height="27" fill="#c0c0c0" />
<rect x="796" y="593" width="1" height="20" fill="#c0c0c0" />
<rect x="804" y="593" width="1" height="10" fill="#c0c0c0" />
<rect x="812" y="593" width="1" height="2" fill="#c0c0c0" />
<rect x="820" y="589" width="1" height="5" fill="#c0c0c0" />
<rect x="828" y="584" width="1" height="10" fill="#c0c0c0" />
<rect x="836" y="579" width="1" height="15" fill="#c0c0c0" />
<rect x="844" y="576" width="1" height="18" fill="#c0c0c0" />
<rect x="852" y="572" width="1" height="22" fill="#c0c0c0" />
<rect x="860" y="570" width="1" height="24" fill="#c0c0c0" />
<rect x="868" y="570" width="1" height="24" fill="#c0c0c0" />
<rect x="876" y="569" width="1" height="25" fill="#c0c0c0" />
<rect x="884" y="573" width="1" height="21" fill="#c0c0c0" />
<rect x="892" y="579" width="1" height="15" fill="#c0c0c0" />
<rect x="900" y="587" width="1" height="7" fill="#c0c0c0" />
<rect x="908" y="593" width="1" height="1" fill="#c0c0c0" />
<rect x="916" y="593" width="1" height="2" fill="#c0c0c0" />
<rect x="924" y="593" width="1" height="4" fill="#c0c0c0" />
<rect x="932" y="593" width="1" height="9" fill="#c0c0c0" />
<rect x="940" y="593" width="1" height="12" fill="#c0c0c0" />
<rect x="948" y="593" width="1" height="14" fill="#c0c0c0" />
<rect x="956" y="593" width="1" height="15" fill="#c0c0c0" />
<rect x="964" y="593" width="1" height="17" fill="#c0c0c0" />
<rect x="972" y="593" width="1" height="22" fill="#c0c0c0" />
<rect x="980" y="593" width="1" height="25" fill="#c0c0c0" />
<rect x="988" y="593" width="1" height="25" fill="#c0c0c0" />
<rect x="996" y="593" width="1" height="22" fill="#c0c0c0" />
<rect x="1004" y="593" width="1" height="20" fill="#c0c0c0" />
<rect x="1012" y="593" width="1" height="21" fill="#c0c0c0" />
<rect x="1020" y="593" width="1" height="22" fill="#c0c0c0" />
<rect x="1028" y="593" width="1" height="23" fill="#c0c0c0" />
<rect x="1036" y="593" width="1" height="20" fill="#c0c0c0" />
<rect x="1044" y="593" width="1" height="14" fill="#c0c0c0" />
<rect x="1052" y="593" width="1" height="10" fill="#c0c0c0" />
<rect x="1060" y="593" width="1" height="8" fill="#c0c0c0" />
<rect x="1068" y="593" width="1" height="8" fill="#c0c0c0" />
<rect x="1076" y="593" width="1" height="8" fill="#c0c0c0" />
<rect x="1084" y="593" width="1" height="1" fill="#c0c0c0" />
<rect x="1092" y="588" width="1" height="6" fill="#c0c0c0" />
<rect x="1100" y="582" width="1" height="12" fill="#c0c0c0" />
<rect x="1108" y="576" width="1" height="18" fill="#c0c0c0" />
<rect x="1116" y="571" width="1" height="23" fill="#c0c0c0" />
<rect x="276" y="564" width="1" height="5" fill="#ff0000" />
<rect x="1420" y="564" width="1" height="1" fill="#000" />
<rect x="1420" y="593" width="1" height="1" fill="#000" />
<rect x="1420" y="664" width="1" height="1" fill="#000" />
<rect x="1420" y="669" width="1" height="1" fill="#000" />
<rect x="1420" y="707" width="1" height="1" fill="#000" />
<rect x="1420" y="758" width="1" height="1" fill="#000" />
<rect x="1420" y="796" width="1" height="1" fill="#000" />
<rect x="5" y="707" width="3" height="1" fill="#c0c0c0" />
<rect x="11" y="707" width="3" height="1" fill="#c0c0c0" />
<rect x="17" y="707" width="3" height="1" fill="#c0c0c0" />
<rect x="23" y="707" width="3" height="1" fill="#c0c0c0" />
<rect x="29" y="707" width="3" height="1" fill="#c0c0c0" />
<rect x="35" y="707" width="3" height="1" fill="#c0c0c0" />
<rect x="41" y="707" width="3" height="1" fill="#c0c0c0" />
<rect x="47" y="707" width="3" height="1" fill="#c0c0c0" />
<rect x="53" y="707" width="3" height="1" fill="#c0c0c0" />
<rect x="59" y="707" width="3" height="1" fill="#c0c0c0" />
<rect x="65" y="707" width="3" height="1" fill="#c0c0c0" />
<rect x="71" y="707" width="3" height="1" fill="#c0c0c0" />
<rect x="77" y="707" width="3" height="1" fill="#c0c0c0" />
<rect x="83" y="707" width="3" height="1" fill="#c0c0c0" />
<rect x="89" y="707" width="3" height="1" fill="#c0c0c0" />
<rect x="95" y="707" width="3" height="1" fill="#c0c0c0" />
<rect x="101" y="707" width="3" height="1" fill="#c0c0c0" />
<rect x="107" y="707" width="3" height="1" fill="#c0c0c0" />
<rect x="113" y="707" width="3" height="1" fill="#c0c0c0" />
<rect x="119" y="707" width="3" height="1" fill="#c0c0c0" />
<rect x="125" y="707" width="3" height="1" fill="#c0c0c0" />
<rect x="131" y="707" width="3" height="1" fill="#c0c0c0" />
<rect x="137" y="707" width="3" height="1" fill="#c0c0c0" />
<rect x="143" y="707" width="3" height="1" fill="#c0c0c0" />
<rect x="149" y="707" width="3" height="1" fill="#c0c0c0" />
<rect x="155" y="707" width="3" height="1" fill="#c0c0c0" />
<rect x="161" y="707" width="3" height="1" fill="#c0c0c0" />
<rect x="167" y="707" width="3" height="1" fill="#c0c0c0" />
<rect x="173" y="707" width="3" height="1" fill="#c0c0c0" />
<rect x="179" y="707" width="3" height="1" fill="#c0c0c0" />
<rect x="185" y="707" width="3" height="1" fill="#c0c0c0" />
<rect x="191" y="707" width="3" height="1" fill="#c0c0c0" />
<rect x="197" y="707" width="3" height="1" fill="#c0c0c0" />
<rect x="203" y="707" width="3" height="1" fill="#c0c0c0" />
<rect x="209" y="707" width="3" height="1" fill="#c0c0c0" />
<rect x="215" y="707" width="3" height="1" fill="#c0c0c0" />
<rect x="221" y="707" width="3" height="1" fill="#c0c0c0" />
<rect x="227" y="707" width="3" height="1" fill="#c0c0c0" />
<rect x="233" y="707" width="3" height="1" fill="#c0c0c0" />
<rect x="239" y="707" width="3" height="1" fill="#c0c0c0" />
<rect x="245" y="707" width="3" height="1" fill="#c0c0c0" />
<rect x="251" y="707" width="3" height="1" fill="#c0c0c0" />
<rect x="257" y="707" width="3" height="1" fill="#c0c0c0" />
<rect x="263" y="707" width="3" height="1" fill="#c0c0c0" />
<rect x="269" y="707" width="3" height="1" fill="#c0c0c0" />
<rect x="275" y="707" width="3" height="1" fill="#c0c0c0" />
<rect x="281" y="707" width="3" height="1" fill="#c0c0c0" />
<rect x="287" y="707" width="3" height="1" fill="#c0c0c0" />
<rect x="293" y="707" width="3" height="1" fill="#c0c0c0" />
<rect x="299" y="707" width="3" height="1" fill="#c0c0c0" />
<rect x="305" y="707" width="3" height="1" fill="#c0c0c0" />
<rect x="311" y="707" width="3" height="1" fill="#c0c0c0" />
<rect x="317" y="707" width="3" height="1" fill="#c0c0c0" />
<rect x="323" y="707" width="3" height="1" fill="#c0c0c0" />
<rect x="329" y="707" width="3" height="1" fill="#c0c0c0" />
<rect x="335" y="707" width="3" height="1" fill="#c0c0c0" />
<rect x="341" y="707" width="3" height="1" fill="#c0c0c0" />
<rect x="347" y="707" width="3" height="1" fill="#c0c0c0" />
<rect x="353" y="707" width="3" height="1" fill="#c0c0c0" />
<rect x="359" y="707" width="3" height="1" fill="#c0c0c0" />
<rect x="365" y="707" width="3" height="1" fill="#c0c0c0" />
<rect x="371" y="707" width="3" height="1" fill="#c0c0c0" />
<rect x="377" y="707" width="3" height="1" fill="#c0c0c0" />
<rect x="383" y="707" width="3" height="1" fill="#c0c0c0" />
<rect x="389" y="707" width="3" height="1" fill="#c0c0c0" />
<rect x="395" y="707" width="3" height="1" fill="#c0c0c0" />
<rect x="401" y="707" width="3" height="1" fill="#c0c0c0" />
<rect x="407" y="707" width="3" height="1" fill="#c0c0c0" />
<rect x="413" y="707" width="3" height="1" fill="#c0c0c0" />
<rect x="419" y="707" width="3" height="1" fill="#c0c0c0" />
<rect x="425" y="707" width="3" height="1" fill="#c0c0c0" />
<rect x="431" y="707" width="3" height="1" fill="#c0c0c0" />
<rect x="437" y="707" width="3" height="1" fill="#c0c0c0" />
<rect x="443" y="707" width="3" height="1" fill="#c0c0c0" />
<rect x="449" y="707" width="3" height="1" fill="#c0c0c0" />
<rect x="455" y="707" width="3" height="1" fill="#c0c0c0" />
<rect x="461" y="707" width="3" height="1" fill="#c0c0c0" />
<rect x="467" y="707" width="3" height="1" fill="#c0c0c0" />
<rect x="473" y="707" width="3" height="1" fill="#c0c0c0" />
<rect x="479" y="707" width="3" height="1" fill="#c0c0c0" />
<rect x="485" y="707" width="3" height="1" fill="#c0c0c0" />
<rect x="491" y="707" width="3" height="1" fill="#c0c0c0" />
<rect x="497" y="707" width="3" height="1" fill="#c0c0c0" />
<rect x="503" y="707" width="3" height="1" fill="#c0c0c0" />
<rect x="509" y="707" width="3" height="1" fill="#c0c0c0" />
<rect x="515" y="707" width="3" height="1" fill="#c0c0c0" />
<rect x="521" y="707" width="3" height="1" fill="#c0c0c0" />
<rect x="527" y="707" width="3" height="1" fill="#c0c0c0" />
<rect x="533" y="707" width="3" height="1" fill="#c0c0c0" />
<rect x="539" y="707" width="3" height="1" fill="#c0c0c0" />
<rect x="545" y="707" width="3" height="1" fill="#c0c0c0" />
<rect x="551" y="707" width="3" height="1" fill="#c0c0c0" />
<rect x="557" y="707" width="3" height="1" fill="#c0c0c0" />
<rect x="563" y="707" width="3" height="1" fill="#c0c0c0" />
<rect x="569" y="707" width="3" height="1" fill="#c0c0c0" />
<rect x="575" y="707" width="3" height="1" fill="#c0c0c0" />
<rect x="581" y="707" width="3" height="1" fill="#c0c0c0" />
<rect x="587" y="707" width="3" height="1" fill="#c0c0c0" />
<rect x="593" y="707" width="3" height="1" fill="#c0c0c0" />
<rect x="599" y="707" width="3" height="1" fill="#c0c0c0" />
<rect x="605" y="707" width="3" height="1" fill="#c0c0c0" />
<rect x="611" y="707" width="3" height="1" fill="#c0c0c0" />
<rect x="617" y="707" width="3" height="1" fill="#c0c0c0" />
<rect x="623" y="707" width="3" height="1" fill="#c0c0c0" />
<rect x="629" y="707" width="3" height="1" fill="#c0c0c0" />
<rect x="635" y="707" width="3" height="1" fill="#c0c0c0" />
<rect x="641" y="707" width="3" height="1" fill="#c0c0c0" />
<rect x="647" y="707" width="3" height="1" fill="#c0c0c0" />
<rect x="653" y="707" width="3" height="1" fill="#c0c0c0" />
<rect x="659" y="707" width="3" height="1" fill="#c0c0c0" />
<rect x="665" y="707" width="3" height="1" fill="#c0c0c0" />
<rect x="671" y="707" width="3" height="1" fill="#c0c0c0" />
<rect x="677" y="707" width="3" height="1" fill="#c0c0c0" />
<rect x="683" y="707" width="3" height="1" fill="#c0c0c0" />
<rect x="689" y="707" width="3" height="1" fill="#c0c0c0" />
<rect x="695" y="707" width="3" height="1" fill="#c0c0c0" />
<rect x="701" y="707" width="3" height="1" fill="#c0c0c0" />
<rect x="707" y="707" width="3" height="1" fill="#c0c0c0" />
<rect x="713" y="707" width="3" height="1" fill="#c0c0c0" />
<rect x="719" y="707" width="3" height="1" fill="#c0c0c0" />
<rect x="725" y="707" width="3" height="1" fill="#c0c0c0" />
<rect x="731" y="707" width="3" height="1" fill="#c0c0c0" />
<rect x="737" y="707" width="3" height="1" fill="#c0c0c0" />
<rect x="743" y="707" width="3" height="1" fill="#c0c0c0" />
<rect x="749" y="707" width="3" height="1" fill="#c0c0c0" />
<rect x="755" y="707" width="3" height="1" fill="#c0c0c0" />
<rect x="761" y="707" width="3" height="1" fill="#c0c0c0" />
<rect x="767" y="707" width="3" height="1" fill="#c0c0c0" />
<rect x="773" y="707" width="3" height="1" fill="#c0c0c0" />
<rect x="779" y="707" width="3" height="1" fill="#c0c0c0" />
<rect x="785" y="707" width="3" height="1" fill="#c0c0c0" />
<rect x="791" y="707" width="3" height="1" fill="#c0c0c0" />
<rect x="797" y="707" width="3" height="1" fill="#c0c0c0" />
<rect x="803" y="707" width="3" height="1" fill="#c0c0c0" />
<rect x="809" y="707" width="3" height="1" fill="#c0c0c0" />
<rect x="815" y="707" width="3" height="1" fill="#c0c0c0" />
<rect x="821" y="707" width="3" height="1" fill="#c0c0c0" />
<rect x="827" y="707" width="3" height="1" fill="#c0c0c0" />
<rect x="833" y="707" width="3" height="1" fill="#c0c0c0" />
<rect x="839" y="707" width="3" height="1" fill="#c0c0c0" />
<rect x="845" y="707" width="3" height="1" fill="#c0c0c0" />
<rect x="851" y="707" width="3" height="1" fill="#c0c0c0" />
<rect x="857" y="707" width="3" height="1" fill="#c0c0c0" />
<rect x="863" y="707" width="3" height="1" fill="#c0c0c0" />
<rect x="869" y="707" width="3" height="1" fill="#c0c0c0" />
<rect x="875" y="707" width="3" height="1" fill="#c0c0c0" />
<rect x="881" y="707" width="3" height="1" fill="#c0c0c0" />
<rect x="887" y="707" width="3" height="1" fill="#c0c0c0" />
<rect x="893" y="707" width="3" height="1" fill="#c0c0c0" />
<rect x="899" y="707" width="3" height="1" fill="#c0c0c0" />
<rect x="905" y="707" width="3" height="1" fill="#c0c0c0" />
<rect x="911" y="707" width="3" height="1" fill="#c0c0c0" />
<rect x="917" y="707" width="3" height="1" fill="#c0c0c0" />
<rect x="923" y="707" width="3" height="1" fill="#c0c0c0" />
<rect x="929" y="707" width="3" height="1" fill="#c0c0c0" />
<rect x="935" y="707" width="3" height="1" fill="#c0c0c0" />
<rect x="941" y="707" width="3" height="1" fill="#c0c0c0" />
<rect x="947" y="707" width="3" height="1" fill="#c0c0c0" />
<rect x="953" y="707" width="3" height="1" fill="#c0c0c0" />
<rect x="959" y="707" width="3" height="1" fill="#c0c0c0" />
<rect x="965" y="707" width="3" height="1" fill="#c0c0c0" />
<rect x="971" y="707" width="3" height="1" fill="#c0c0c0" />
<rect x="977" y="707" width="3" height="1" fill="#c0c0c0" />
<rect x="983" y="707" width="3" height="1" fill="#c0c0c0" />
<rect x="989" y="707" width="3" height="1" fill="#c0c0c0" />
<rect x="995" y="707" width="3" height="1" fill="#c0c0c0" />
<rect x="1001" y="707" width="3" height="1" fill="#c0c0c0" />
<rect x="1007" y="707" width="3" height="1" fill="#c0c0c0" />
<rect x="1013" y="707" width="3" height="1" fill="#c0c0c0" />
<rect x="1019" y="707" width="3" height="1" fill="#c0c0c0" />
<rect x="1025" y="707" width="3" height="1" fill="#c0c0c0" />
<rect x="1031" y="707" width="3" height="1" fill="#c0c0c0" />
<rect x="1037" y="707" width="3" height="1" fill="#c0c0c0" />
<rect x="1043" y="707" width="3" height="1" fill="#c0c0c0" />
<rect x="1049" y="707" width="3" height="1" fill="#c0c0c0" />
<rect x="1055" y="707" width="3" height="1" fill="#c0c0c0" />
<rect x="1061" y="707" width="3" height="1" fill="#c0c0c0" />
<rect x="1067" y="707" width="3" height="1" fill="#c0c0c0" />
<rect x="1073" y="707" width="3" height="1" fill="#c0c0c0" />
<rect x="1079" y="707" width="3" height="1" fill="#c0c0c0" />
<rect x="1085" y="707" width="3" height="1" fill="#c0c0c0" />
<rect x="1091" y="707" width="3" height="1" fill="#c0c0c0" />
<rect x="1097" y="707" width="3" height="1" fill="#c0c0c0" />
<rect x="1103" y="707" width="3" height="1" fill="#c0c0c0" />
<rect x="1109" y="707" width="3" height="1" fill="#c0c0c0" />
<rect x="1115" y="707" width="3" height="1" fill="#c0c0c0" />
<rect x="1121" y="707" width="3" height="1" fill="#c0c0c0" />
<rect x="1127" y="707" width="3" height="1" fill="#c0c0c0" />
<rect x="1133" y="707" width="3" height="1" fill="#c0c0c0" />
<rect x="1139" y="707" width="3" height="1" fill="#c0c0c0" />
<rect x="1145" y="707" width="3" height="1" fill="#c0c0c0" />
<rect x="1151" y="707" width="3" height="1" fill="#c0c0c0" />
<rect x="1157" y="707" width="3" height="1" fill="#c0c0c0" />
<rect x="1163" y="707" width="3" height="1" fill="#c0c0c0" />
<rect x="1169" y="707" width="3" height="1" fill="#c0c0c0" />
<rect x="1175" y="707" width="3" height="1" fill="#c0c0c0" />
<rect x="1181" y="707" width="3" height="1" fill="#c0c0c0" />
<rect x="1187" y="707" width="3" height="1" fill="#c0c0c0" />
<rect x="1193" y="707" width="3" height="1" fill="#c0c0c0" />
<rect x="1199" y="707" width="3" height="1" fill="#c0c0c0" />
<rect x="1205" y="707" width="3" height="1" fill="#c0c0c0" />
<rect x="1211" y="707" width="3" height="1" fill="#c0c0c0" />
<rect x="1217" y="707" width="3" height="1" fill="#c0c0c0" />
<rect x="1223" y="707" width="3" height="1" fill="#c0c0c0" />
<rect x="1229" y="707" width="3" height="1" fill="#c0c0c0" />
<rect x="1235" y="707" width="3" height="1" fill="#c0c0c0" />
<rect x="1241" y="707" width="3" height="1" fill="#c0c0c0" />
<rect x="1247" y="707" width="3" height="1" fill="#c0c0c0" />
<rect x="1253" y="707" width="3" height="1" fill="#c0c0c0" />
<rect x="1259" y="707" width="3" height="1" fill="#c0c0c0" />
<rect x="1265" y="707" width="3" height="1" fill="#c0c0c0" />
<rect x="1271" y="707" width="3" height="1" fill="#c0c0c0" />
<rect x="1277" y="707" width="3" height="1" fill="#c0c0c0" />
<rect x="1283" y="707" width="3" height="1" fill="#c0c0c0" />
<rect x="1289" y="707" width="3" height="1" fill="#c0c0c0" />
<rect x="1295" y="707" width="3" height="1" fill="#c0c0c0" />
<rect x="1301" y="707" width="3" height="1" fill="#c0c0c0" />
<rect x="1307" y="707" width="3" height="1" fill="#c0c0c0" />
<rect x="1313" y="707" width="3" height="1" fill="#c0c0c0" />
<rect x="1319" y="707" width="3" height="1" fill="#c0c0c0" />
<rect x="1325" y="707" width="3" height="1" fill="#c0c0c0" />
<rect x="1331" y="707" width="3" height="1" fill="#c0c0c0" />
<rect x="1337" y="707" width="3" height="1" fill="#c0c0c0" />
<rect x="1343" y="707" width="3" height="1" fill="#c0c0c0" />
<rect x="1349" y="707" width="3" height="1" fill="#c0c0c0" />
<rect x="1355" y="707" width="3" height="1" fill="#c0c0c0" />
<rect x="1361" y="707" width="3" height="1" fill="#c0c0c0" />
<rect x="1367" y="707" width="3" height="1" fill="#c0c0c0" />
<rect x="1373" y="707" width="3" height="1" fill="#c0c0c0" />
<rect x="1379" y="707" width="3" height="1" fill="#c0c0c0" />
<rect x="1385" y="707" width="3" height="1" fill="#c0c0c0" />
<rect x="1391" y="707" width="3" height="1" fill="#c0c0c0" />
<rect x="1397" y="707" width="3" height="1" fill="#c0c0c0" />
<rect x="1403" y="707" width="3" height="1" fill="#c0c0c0" />
<rect x="1409" y="707" width="3" height="1" fill="#c0c0c0" />
<rect x="1415" y="707" width="3" height="1" fill="#c0c0c0" />
<rect x="5" y="758" width="3" height="1" fill="#c0c0c0" />
<rect x="11" y="758" width="3" height="1" fill="#c0c0c0" />
<rect x="17" y="758" width="3" height="1" fill="#c0c0c0" />
<rect x="23" y="758" width="3" height="1" fill="#c0c0c0" />
<rect x="29" y="758" width="3" height="1" fill="#c0c0c0" />
<rect x="35" y="758" width="3" height="1" fill="#c0c0c0" />
<rect x="41" y="758" width="3" height="1" fill="#c0c0c0" />
<rect x="47" y="758" width="3" height="1" fill="#c0c0c0" />
<rect x="53" y="758" width="3" height="1" fill="#c0c0c0" />
<rect x="59" y="758" width="3" height="1" fill="#c0c0c0" />
<rect x="65" y="758" width="3" height="1" fill="#c0c0c0" />
<rect x="71" y="758" width="3" height="1" fill="#c0c0c0" />
<rect x="77" y="758" width="3" height="1" fill="#c0c0c0" />
<rect x="83" y="758" width="3" height="1" fill="#c0c0c0" />
<rect x="89" y="758" width="3" height="1" fill="#c0c0c0" />
<rect x="95" y="758" width="3" height="1" fill="#c0c0c0" />
<rect x="101" y="758" width="3" height="1" fill="#c0c0c0" />
<rect x="107" y="758" width="3" height="1" fill="#c0c0c0" />
<rect x="113" y="758" width="3" height="1" fill="#c0c0c0" />
<rect x="119" y="758" width="3" height="1" fill="#c0c0c0" />
<rect x="125" y="758" width="3" height="1" fill="#c0c0c0" />
<rect x="131" y="758" width="3" height="1" fill="#c0c0c0" />
<rect x="137" y="758" width="3" height="1" fill="#c0c0c0" />
<rect x="143" y="758" width="3" height="1" fill="#c0c0c0" />
<rect x="149" y="758" width="3" height="1" fill="#c0c0c0" />
<rect x="155" y="758" width="3" height="1" fill="#c0c0c0" />
<rect x="161" y="758" width="3" height="1" fill="#c0c0c0" />
<rect x="167" y="758" width="3" height="1" fill="#c0c0c0" />
<rect x="173" y="758" width="3" height="1" fill="#c0c0c0" />
<rect x="179" y="758" width="3" height="1" fill="#c0c0c0" />
<rect x="185" y="758" width="3" height="1" fill="#c0c0c0" />
<rect x="191" y="758" width="3" height="1" fill="#c0c0c0" />
<rect x="197" y="758" width="3" height="1" fill="#c0c0c0" />
<rect x="203" y="758" width="3" height="1" fill="#c0c0c0" />
<rect x="209" y="758" width="3" height="1" fill="#c0c0c0" />
<rect x="215" y="758" width="3" height="1" fill="#c0c0c0" />
<rect x="221" y="758" width="3" height="1" fill="#c0c0c0" />
<rect x="227" y="758" width="3" height="1" fill="#c0c0c0" />
<rect x="233" y="758" width="3" height="1" fill="#c0c0c0" />
<rect x="239" y="758" width="3" height="1" fill="#c0c0c0" />
<rect x="245" y="758" width="3" height="1" fill="#c0c0c0" />
<rect x="251" y="758" width="3" height="1" fill="#c0c0c0" />
<rect x="257" y="758" width="3" height="1" fill="#c0c0c0" />
<rect x="263" y="758" width="3" height="1" fill="#c0c0c0" />
<rect x="269" y="758" width="3" height="1" fill="#c0c0c0" />
<rect x="275" y="758" width="3" height="1" fill="#c0c0c0" />
<rect x="281" y="758" width="3" height="1" fill="#c0c0c0" />
<rect x="287" y="758" width="3" height="1" fill="#c0c0c0" />
<rect x="293" y="758" width="3" height="1" fill="#c0c0c0" />
<rect x="299" y="758" width="3" height="1" fill="#c0c0c0" />
<rect x="305" y="758" width="3" height="1" fill="#c0c0c0" />
<rect x="311" y="758" width="3" height="1" fill="#c0c0c0" />
<rect x="317" y="758" width="3" height="1" fill="#c0c0c0" />
<rect x="323" y="758" width="3" height="1" fill="#c0c0c0" />
<rect x="329" y="758" width="3" height="1" fill="#c0c0c0" />
<rect x="335" y="758" width="3" height="1" fill="#c0c0c0" />
<rect x="341" y="758" width="3" height="1" fill="#c0c0c0" />
<rect x="347" y="758" width="3" height="1" fill="#c0c0c0" />
<rect x="353" y="758" width="3" height="1" fill="#c0c0c0" />
<rect x="359" y="758" width="3" height="1" fill="#c0c0c0" />
<rect x="365" y="758" width="3" height="1" fill="#c0c0c0" />
<rect x="371" y="758" width="3" height="1" fill="#c0c0c0" />
<rect x="377" y="758" width="3" height="1" fill="#c0c0c0" />
<rect x="383" y="758" width="3" height="1" fill="#c0c0c0" />
<rect x="389" y="758" width="3" height="1" fill="#c0c0c0" />
<rect x="395" y="758" width="3" height="1" fill="#c0c0c0" />
<rect x="401" y="758" width="3" height="1" fill="#c0c0c0" />
<rect x="407" y="758" width="3" height="1" fill="#c0c0c0" />
<rect x="413" y="758" width="3" height="1" fill="#c0c0c0" />
<rect x="419" y="758" width="3" height="1" fill="#c0c0c0" />
<rect x="425" y="758" width="3" height="1" fill="#c0c0c0" />
<rect x="431" y="758" width="3" height="1" fill="#c0c0c0" />
<rect x="437" y="758" width="3" height="1" fill="#c0c0c0" />
<rect x="443" y="758" width="3" height="1" fill="#c0c0c0" />
<rect x="449" y="758" width="3" height="1" fill="#c0c0c0" />
<rect x="455" y="758" width="3" height="1" fill="#c0c0c0" />
<rect x="461" y="758" width="3" height="1" fill="#c0c0c0" />
<rect x="467" y="758" width="3" height="1" fill="#c0c0c0" />
<rect x="473" y="758" width="3" height="1" fill="#c0c0c0" />
<rect x="479" y="758" width="3" height="1" fill="#c0c0c0" />
<rect x="485" y="758" width="3" height="1" fill="#c0c0c0" />
<rect x="491" y="758" width="3" height="1" fill="#c0c0c0" />
<rect x="497" y="758" width="3" height="1" fill="#c0c0c0" />
<rect x="503" y="758" width="3" height="1" fill="#c0c0c0" />
<rect x="509" y="758" width="3" height="1" fill="#c0c0c0" />
<rect x="515" y="758" width="3" height="1" fill="#c0c0c0" />
<rect x="521" y="758" width="3" height="1" fill="#c0c0c0" />
<rect x="527" y="758" width="3" height="1" fill="#c0c0c0" />
<rect x="533" y="758" width="3" height="1" fill="#c0c0c0" />
<rect x="539" y="758" width="3" height="1" fill="#c0c0c0" />
<rect x="545" y="758" width="3" height="1" fill="#c0c0c0" />
<rect x="551" y="758" width="3" height="1" fill="#c0c0c0" />
<rect x="557" y="758" width="3" height="1" fill="#c0c0c0" />
<rect x="563" y="758" width="3" height="1" fill="#c0c0c0" />
<rect x="569" y="758" width="3" height="1" fill="#c0c0c0" />
<rect x="575" y="758" width="3" height="1" fill="#c0c0c0" />
<rect x="581" y="758" width="3" height="1" fill="#c0c0c0" />
<rect x="587" y="758" width="3" height="1" fill="#c0c0c0" />
<rect x="593" y="758" width="3" height="1" fill="#c0c0c0" />
<rect x="599" y="758" width="3" height="1" fill="#c0c0c0" />
<rect x="605" y="758" width="3" height="1" fill="#c0c0c0" />
<rect x="611" y="758" width="3" height="1" fill="#c0c0c0" />
<rect x="617" y="758" width="3" height="1" fill="#c0c0c0" />
<rect x="623" y="758" width="3" height="1" fill="#c0c0c0" />
<rect x="629" y="758" width="3" height="1" fill="#c0c0c0" />
<rect x="635" y="758" width="3" height="1" fill="#c0c0c0" />
<rect x="641" y="758" width="3" height="1" fill="#c0c0c0" />
<rect x="647" y="758" width="3" height="1" fill="#c0c0c0" />
<rect x="653" y="758" width="3" height="1" fill="#c0c0c0" />
<rect x="659" y="758" width="3" height="1" fill="#c0c0c0" />
<rect x="665" y="758" width="3" height="1" fill="#c0c0c0" />
<rect x="671" y="758" width="3" height="1" fill="#c0c0c0" />
<rect x="677" y="758" width="3" height="1" fill="#c0c0c0" />
<rect x="683" y="758" width="3" height="1" fill="#c0c0c0" />
<rect x="689" y="758" width="3" height="1" fill="#c0c0c0" />
<rect x="695" y="758" width="3" height="1" fill="#c0c0c0" />
<rect x="701" y="758" width="3" height="1" fill="#c0c0c0" />
<rect x="707" y="758" width="3" height="1" fill="#c0c0c0" />
<rect x="713" y="758" width="3" height="1" fill="#c0c0c0" />
<rect x="719" y="758" width="3" height="1" fill="#c0c0c0" />
<rect x="725" y="758" width="3" height="1" fill="#c0c0c0" />
<rect x="731" y="758" width="3" height="1" fill="#c0c0c0" />
<rect x="737" y="758" width="3" height="1" fill="#c0c0c0" />
<rect x="743" y="758" width="3" height="1" fill="#c0c0c0" />
<rect x="749" y="758" width="3" height="1" fill="#c0c0c0" />
<rect x="755" y="758" width="3" height="1" fill="#c0c0c0" />
<rect x="761" y="758" width="3" height="1" fill="#c0c0c0" />
<rect x="767" y="758" width="3" height="1" fill="#c0c0c0" />
<rect x="773" y="758" width="3" height="1" fill="#c0c0c0" />
<rect x="779" y="758" width="3" height="1" fill="#c0c0c0" />
<rect x="785" y="758" width="3" height="1" fill="#c0c0c0" />
<rect x="791" y="758" width="3" height="1" fill="#c0c0c0" />
<rect x="797" y="758" width="3" height="1" fill="#c0c0c0" />
<rect x="803" y="758" width="3" height="1" fill="#c0c0c0" />
<rect x="809" y="758" width="3" height="1" fill="#c0c0c0" />
<rect x="815" y="758" width="3" height="1" fill="#c0c0c0" />
<rect x="821" y="758" width="3" height="1" fill="#c0c0c0" />
<rect x="827" y="758" width="3" height="1" fill="#c0c0c0" />
<rect x="833" y="758" width="3" height="1" fill="#c0c0c0" />
<rect x="839" y="758" width="3" height="1" fill="#c0c0c0" />
<rect x="845" y="758" width="3" height="1" fill="#c0c0c0" />
<rect x="851" y="758" width="3" height="1" fill="#c0c0c0" />
<rect x="857" y="758" width="3" height="1" fill="#c0c0c0" />
<rect x="863" y="758" width="3" height="1" fill="#c0c0c0" />
<rect x="869" y="758" width="3" height="1" fill="#c0c0c0" />
<rect x="875" y="758" width="3" height="1" fill="#c0c0c0" />
<rect x="881" y="758" width="3" height="1" fill="#c0c0c0" />
<rect x="887" y="758" width="3" height="1" fill="#c0c0c0" />
<rect x="893" y="758" width="3" height="1" fill="#c0c0c0" />
<rect x="899" y="758" width="3" height="1" fill="#c0c0c0" />
<rect x="905" y="758" width="3" height="1" fill="#c0c0c0" />
<rect x="911" y="758" width="3" height="1" fill="#c0c0c0" />
<rect x="917" y="758" width="3" height="1" fill="#c0c0c0" />
<rect x="923" y="758" width="3" height="1" fill="#c0c0c0" />
<rect x="929" y="758" width="3" height="1" fill="#c0c0c0" />
<rect x="935" y="758" width="3" height="1" fill="#c0c0c0" />
<rect x="941" y="758" width="3" height="1" fill="#c0c0c0" />
<rect x="947" y="758" width="3" height="1" fill="#c0c0c0" />
<rect x="953" y="758" width="3" height="1" fill="#c0c0c0" />
<rect x="959" y="758" width="3" height="1" fill="#c0c0c0" />
<rect x="965" y="758" width="3" height="1" fill="#c0c0c0" />
<rect x="971" y="758" width="3" height="1" fill="#c0c0c0" />
<rect x="977" y="758" width="3" height="1" fill="#c0c0c0" />
<rect x="983" y="758" width="3" height="1" fill="#c0c0c0" />
<rect x="989" y="758" width="3" height="1" fill="#c0c0c0" />
<rect x="995" y="758" width="3" height="1" fill="#c0c0c0" />
<rect x="1001" y="758" width="3" height="1" fill="#c0c0c0" />
<rect x="1007" y="758" width="3" height="1" fill="#c0c0c0" />
<rect x="1013" y="758" width="3" height="1" fill="#c0c0c0" />
<rect x="1019" y="758" width="3" height="1" fill="#c0c0c0" />
<rect x="1025" y="758" width="3" height="1" fill="#c0c0c0" />
<rect x="1031" y="758" width="3" height="1" fill="#c0c0c0" />
<rect x="1037" y="758" width="3" height="1" fill="#c0c0c0" />
<rect x="1043" y="758" width="3" height="1" fill="#c0c0c0" />
<rect x="1049" y="758" width="3" height="1" fill="#c0c0c0" />
<rect x="1055" y="758" width="3" height="1" fill="#c0c0c0" />
<rect x="1061" y="758" width="3" height="1" fill="#c0c0c0" />
<rect x="1067" y="758" width="3" height="1" fill="#c0c0c0" />
<rect x="1073" y="758" width="3" height="1" fill="#c0c0c0" />
<rect x="1079" y="758" width="3" height="1" fill="#c0c0c0" />
<rect x="1085" y="758" width="3" height="1" fill="#c0c0c0" />
<rect x="1091" y="758" width="3" height="1" fill="#c0c0c0" />
<rect x="1097" y="758" width="3" height="1" fill="#c0c0c0" />
<rect x="1103" y="758" width="3" height="1" fill="#c0c0c0" />
<rect x="1109" y="758" width="3" height="1" fill="#c0c0c0" />
<rect x="1115" y="758" width="3" height="1" fill="#c0c0c0" />
<rect x="1121" y="758" width="3" height="1" fill="#c0c0c0" />
<rect x="1127" y="758" width="3" height="1" fill="#c0c0c0" />
<rect x="1133" y="758" width="3" height="1" fill="#c0c0c0" />
<rect x="1139" y="758" width="3" height="1" fill="#c0c0c0" />
<rect x="1145" y="758" width="3" height="1" fill="#c0c0c0" />
<rect x="1151" y="758" width="3" height="1" fill="#c0c0c0" />
<rect x="1157" y="758" width="3" height="1" fill="#c0c0c0" />
<rect x="1163" y="758" width="3" height="1" fill="#c0c0c0" />
<rect x="1169" y="758" width="3" height="1" fill="#c0c0c0" />
<rect x="1175" y="758" width="3" height="1" fill="#c0c0c0" />
<rect x="1181" y="758" width="3" height="1" fill="#c0c0c0" />
<rect x="1187" y="758" width="3" height="1" fill="#c0c0c0" />
<rect x="1193" y="758" width="3" height="1" fill="#c0c0c0" />
<rect x="1199" y="758" width="3" height="1" fill="#c0c0c0" />
<rect x="1205" y="758" width="3" height="1" fill="#c0c0c0" />
<rect x="1211" y="758" width="3" height="1" fill="#c0c0c0" />
<rect x="1217" y="758" width="3" height="1" fill="#c0c0c0" />
<rect x="1223" y="758" width="3" height="1" fill="#c0c0c0" />
<rect x="1229" y="758" width="3" height="1" fill="#c0c0c0" />
<rect x="1235" y="758" width="3" height="1" fill="#c0c0c0" />
<rect x="1241" y="758" width="3" height="1" fill="#c0c0c0" />
<rect x="1247" y="758" width="3" height="1" fill="#c0c0c0" />
<rect x="1253" y="758" width="3" height="1" fill="#c0c0c0" />
<rect x="1259" y="758" width="3" height="1" fill="#c0c0c0" />
<rect x="1265" y="758" width="3" height="1" fill="#c0c0c0" />
<rect x="1271" y="758" width="3" height="1" fill="#c0c0c0" />
<rect x="1277" y="758" width="3" height="1" fill="#c0c0c0" />
<rect x="1283" y="758" width="3" height="1" fill="#c0c0c0" />
<rect x="1289" y="758" width="3" height="1" fill="#c0c0c0" />
<rect x="1295" y="758" width="3" height="1" fill="#c0c0c0" />
<rect x="1301" y="758" width="3" height="1" fill="#c0c0c0" />
<rect x="1307" y="758" width="3" height="1" fill="#c0c0c0" />
<rect x="1313" y="758" width="3" height="1" fill="#c0c0c0" />
<rect x="1319" y="758" width="3" height="1" fill="#c0c0c0" />
<rect x="1325" y="758" width="3" height="1" fill="#c0c0c0" />
<rect x="1331" y="758" width="3" height="1" fill="#c0c0c0" />
<rect x="1337" y="758" width="3" height="1" fill="#c0c0c0" />
<rect x="1343" y="758" width="3" height="1" fill="#c0c0c0" />
<rect x="1349" y="758" width="3" height="1" fill="#c0c0c0" />
<rect x="1355" y="758" width="3" height="1" fill="#c0c0c0" />
<rect x="1361" y="758" width="3" height="1" fill="#c0c0c0" />
<rect x="1367" y="758" width="3" height="1" fill="#c0c0c0" />
<rect x="1373" y="758" width="3" height="1" fill="#c0c0c0" />
<rect x="1379" y="758" width="3" height="1" fill="#c0c0c0" />
<rect x="1385" y="758" width="3" height="1" fill="#c0c0c0" />
<rect x="1391" y="758" width="3" height="1" fill="#c0c0c0" />
<rect x="1397" y="758" width="3" height="1" fill="#c0c0c0" />
<rect x="1403" y="758" width="3" height="1" fill="#c0c0c0" />
<rect x="1409" y="758" width="3" height="1" fill="#c0c0c0" />
<rect x="1415" y="758" width="3" height="1" fill="#c0c0c0" />
<rect x="4" y="797" width="1" height="4" fill="#000" />
<rect x="68" y="797" width="1" height="4" fill="#000" />
<rect x="132" y="797" width="1" height="4" fill="#000" />
<rect x="196" y="797" width="1" height="4" fill="#000" />
<rect x="260" y="797" width="1" height="4" fill="#000" />
<rect x="324" y="797" width="1" height="4" fill="#000" />
<rect x="388" y="797" width="1" height="4" fill="#000" />
<rect x="452" y="797" width="1" height="4" fill="#000" />
<rect x="516" y="797" width="1" height="4" fill="#000" />
<rect x="580" y="797" width="1" height="4" fill="#000" />
<rect x="644" y="797" width="1" height="4" fill="#000" />
<rect x="708" y="797" width="1" height="4" fill="#000" />
<rect x="772" y="797" width="1" height="4" fill="#000" />
<rect x="836" y="797" width="1" height="4" fill="#000" />
<rect x="900" y="797" width="1" height="4" fill="#000" />
<rect x="964" y="797" width="1" height="4" fill="#000" />
<rect x="1028" y="797" width="1" height="4" fill="#000" />
<rect x="1092" y="797" width="1" height="4" fill="#000" />
</g>
<polyline points="4.5,629.5 12.5,632.5 20.5,632.5 28.5,633.5 36.5,635.5 44.5,636.5 52.5,639.5 60.5,641.5 68.5,642.5 76.5,644.5 84.5,645.5 92.5,645.5 100.5,644.5 108.5,642.5 116.5,640.5 124.5,639.5 132.5,635.5 140.5,632.5 148.5,628.5 156.5,623.5 164.5,619.5 172.5,615.5 180.5,611.5 188.5,606.5 196.5,603.5 204.5,600.5 212.5,598.5 220.5,597.5 228.5,597.5 236.5,598.5 244.5,599.5 252.5,602.5 260.5,605.5 268.5,607.5 276.5,610.5 284.5,611.5 292.5,611.5 300.5,610.5 308.5,608.5 316.5,605.5 324.5,601.5 332.5,597.5 340.5,593.5 348.5,589.5 356.5,585.5 364.5,582.5 372.5,578.5 380.5,576.5 388.5,575.5 396.5,575.5 404.5,577.5 412.5,577.5 420.5,578.5 428.5,579.5 436.5,579.5 444.5,580.5 452.5,580.5 460.5,579.5 468.5,578.5 476.5,575.5 484.5,574.5 492.5,574.5 500.5,573.5 508.5,574.5 516.5,577.5 524.5,581.5 532.5,586.5 540.5,591.5 548.5,596.5 556.5,603.5 564.5,610.5 572.5,617.5 580.5,624.5 588.5,631.5 596.5,638.5 604.5,643.5 612.5,647.5 620.5,651.5 628.5,653.5 636.5,654.5 644.5,655.5 652.5,655.5 660.5,654.5 668.5,652.5 676.5,651.5 684.5,649.5 692.5,647.5 700.5,645.5 708.5,643.5 716.5,642.5 724.5,640.5 732.5,638.5 740.5,636.5 748.5,635.5 756.5,634.5 764.5,633.5 772.5,633.5 780.5,632.5 788.5,630.5 796.5,627.5 804.5,624.5 812.5,620.5 820.5,616.5 828.5,612.5 836.5,607.5 844.5,601.5 852.5,595.5 860.5,590.5 868.5,584.5 876.5,579.5 884.5,576.5 892.5,575.5 900.5,575.5 908.5,576.5 916.5,578.5 924.5,581.5 932.5,584.5 940.5,588.5 948.5,591.5 956.5,595.5 964.5,599.5 972.5,603.5 980.5,606.5 988.5,608.5 996.5,610.5 1004.5,612.5 1012.5,613.5 1020.5,614.5 1028.5,615.5 1036.5,615.5 1044.5,614.5 1052.5,612.5 1060.5,611.5 1068.5,609.5 1076.5,607.5 1084.5,605.5 1092.5,603.5 1100.5,599.5 1108.5,594.5 1116.5,590.5" fill="none" stroke="#ff0000" stroke-width="1" stroke-dasharray="3 3" shape-rendering="crispEdges"/>
<polyline points="4.5,754.5 12.5,756.5 20.5,757.5 28.5,762.5 36.5,765.5 44.5,754.5 52.5,749.5 60.5,754.5 68.5,755.5 76.5,749.5 84.5,740.5 92.5,741.5 100.5,743.5 108.5,741.5 116.5,743.5 124.5,747.5 132.5,736.5 140.5,738.5 148.5,727.5 156.5,723.5 164.5,729.5 172.5,728.5 180.5,721.5 188.5,725.5 196.5,733.5 204.5,733.5 212.5,739.5 220.5,744.5 228.5,752.5 236.5,748.5 244.5,753.5 252.5,744.5 260.5,743.5 268.5,734.5 276.5,733.5 284.5,729.5 292.5,725.5 300.5,726.5 308.5,721.5 316.5,717.5 324.5,714.5 332.5,714.5 340.5,730.5 348.5,724.5 356.5,718.5 364.5,719.5 372.5,730.5 380.5,730.5 388.5,732.5 396.5,741.5 404.5,734.5 412.5,731.5 420.5,722.5 428.5,723.5 436.5,720.5 444.5,725.5 452.5,727.5 460.5,717.5 468.5,723.5 476.5,723.5 484.5,726.5 492.5,733.5 500.5,737.5 508.5,742.5 516.5,749.5 524.5,749.5 532.5,751.5 540.5,754.5 548.5,759.5 556.5,763.5 564.5,763.5 572.5,764.5 580.5,767.5 588.5,767.5 596.5,767.5 604.5,750.5 612.5,753.5 620.5,755.5 628.5,759.5 636.5,746.5 644.5,753.5 652.5,748.5 660.5,745.5 668.5,745.5 676.5,750.5 684.5,745.5 692.5,742.5 700.5,747.5 708.5,748.5 716.5,755.5 724.5,739.5 732.5,742.5 740.5,744.5 748.5,745.5 756.5,746.5 764.5,747.5 772.5,749.5 780.5,737.5 788.5,729.5 796.5,726.5 804.5,719.5 812.5,720.5 820.5,717.5 828.5,718.5 836.5,715.5 844.5,719.5 852.5,716.5 860.5,717.5 868.5,722.5 876.5,722.5 884.5,733.5 892.5,740.5 900.5,746.5 908.5,744.5 916.5,744.5 924.5,737.5 932.5,745.5 940.5,745.5 948.5,744.5 956.5,744.5 964.5,745.5 972.5,754.5 980.5,754.5 988.5,742.5 996.5,735.5 1004.5,737.5 1012.5,743.5 1020.5,744.5 1028.5,746.5 1036.5,734.5 1044.5,725.5 1052.5,727.5 1060.5,732.5 1068.5,738.5 1076.5,736.5 1084.5,721.5 1092.5,716.5 1100.5,718.5 1108.5,715.5 1116.5,713.5" fill="none" stroke="#1e90ff" stroke-width="1" shape-rendering="crispEdges"/>
<text transform="translate(1425,33) scale(0.908,1)" font-size="10.0" fill="#000" font-weight="normal" text-anchor="start"  stroke="#000" stroke-width="0.2">0.70965</text>
<text transform="translate(1425,66) scale(0.908,1)" font-size="10.0" fill="#000" font-weight="normal" text-anchor="start"  stroke="#000" stroke-width="0.2">0.70695</text>
<text transform="translate(1425,99) scale(0.908,1)" font-size="10.0" fill="#000" font-weight="normal" text-anchor="start"  stroke="#000" stroke-width="0.2">0.70420</text>
<text transform="translate(1425,132) scale(0.908,1)" font-size="10.0" fill="#000" font-weight="normal" text-anchor="start"  stroke="#000" stroke-width="0.2">0.70150</text>
<text transform="translate(1425,165) scale(0.908,1)" font-size="10.0" fill="#000" font-weight="normal" text-anchor="start"  stroke="#000" stroke-width="0.2">0.69875</text>
<text transform="translate(1425,198) scale(0.908,1)" font-size="10.0" fill="#000" font-weight="normal" text-anchor="start"  stroke="#000" stroke-width="0.2">0.69605</text>
<text transform="translate(1425,231) scale(0.908,1)" font-size="10.0" fill="#000" font-weight="normal" text-anchor="start"  stroke="#000" stroke-width="0.2">0.69330</text>
<text transform="translate(1425,264) scale(0.908,1)" font-size="10.0" fill="#000" font-weight="normal" text-anchor="start"  stroke="#000" stroke-width="0.2">0.69060</text>
<text transform="translate(1425,297) scale(0.908,1)" font-size="10.0" fill="#000" font-weight="normal" text-anchor="start"  stroke="#000" stroke-width="0.2">0.68785</text>
<text transform="translate(1425,330) scale(0.908,1)" font-size="10.0" fill="#000" font-weight="normal" text-anchor="start"  stroke="#000" stroke-width="0.2">0.68515</text>
<text transform="translate(1425,363) scale(0.908,1)" font-size="10.0" fill="#000" font-weight="normal" text-anchor="start"  stroke="#000" stroke-width="0.2">0.68240</text>
<text transform="translate(1425,396) scale(0.908,1)" font-size="10.0" fill="#000" font-weight="normal" text-anchor="start"  stroke="#000" stroke-width="0.2">0.67970</text>
<text transform="translate(1425,429) scale(0.908,1)" font-size="10.0" fill="#000" font-weight="normal" text-anchor="start"  stroke="#000" stroke-width="0.2">0.67700</text>
<text transform="translate(1425,462) scale(0.908,1)" font-size="10.0" fill="#000" font-weight="normal" text-anchor="start"  stroke="#000" stroke-width="0.2">0.67425</text>
<text transform="translate(1425,495) scale(0.908,1)" font-size="10.0" fill="#000" font-weight="normal" text-anchor="start"  stroke="#000" stroke-width="0.2">0.67155</text>
<text transform="translate(1425,528) scale(0.908,1)" font-size="10.0" fill="#000" font-weight="normal" text-anchor="start"  stroke="#000" stroke-width="0.2">0.66880</text>
<text transform="translate(1425,561) scale(0.908,1)" font-size="10.0" fill="#000" font-weight="normal" text-anchor="start"  stroke="#000" stroke-width="0.2">0.66610</text>
<g shape-rendering="crispEdges">
<rect x="1421" y="294" width="41" height="11" fill="#000" />
<rect x="1421" y="140" width="41" height="11" fill="#ff0000" />
<rect x="1421" y="261" width="41" height="11" fill="#ff0000" />
<rect x="1421" y="382" width="41" height="11" fill="#00ff00" />
<rect x="1421" y="540" width="41" height="11" fill="#0000ff" />
</g>
<text transform="translate(1425,303) scale(0.908,1)" font-size="10.0" fill="#fff" font-weight="normal" text-anchor="start"  stroke="#fff" stroke-width="0.2">0.68736</text>
<text transform="translate(1425,149) scale(0.908,1)" font-size="10.0" fill="#fff" font-weight="normal" text-anchor="start"  stroke="#fff" stroke-width="0.2">0.70002</text>
<text transform="translate(1425,270) scale(0.908,1)" font-size="10.0" fill="#fff" font-weight="normal" text-anchor="start"  stroke="#fff" stroke-width="0.2">0.69003</text>
<text transform="translate(1425,391) scale(0.908,1)" font-size="10.0" fill="#fff" font-weight="normal" text-anchor="start"  stroke="#fff" stroke-width="0.2">0.68006</text>
<text transform="translate(1425,549) scale(0.908,1)" font-size="10.0" fill="#fff" font-weight="normal" text-anchor="start"  stroke="#fff" stroke-width="0.2">0.66705</text>
<text transform="translate(1423,573) scale(0.908,1)" font-size="10.0" fill="#000" font-weight="normal" text-anchor="start"  stroke="#000" stroke-width="0.2">0.002574</text>
<text transform="translate(1423,597) scale(0.908,1)" font-size="10.0" fill="#000" font-weight="normal" text-anchor="start"  stroke="#000" stroke-width="0.2">0.00</text>
<text transform="translate(1423,662) scale(0.908,1)" font-size="10.0" fill="#000" font-weight="normal" text-anchor="start"  stroke="#000" stroke-width="0.2">-0.006326</text>
<text transform="translate(1423.3,678) scale(0.908,1)" font-size="10.0" fill="#000" font-weight="normal" text-anchor="start"  stroke="#000" stroke-width="0.2">100</text>
<text transform="translate(1422.8,711) scale(0.908,1)" font-size="10.0" fill="#000" font-weight="normal" text-anchor="start"  stroke="#000" stroke-width="0.2">70</text>
<text transform="translate(1423,762) scale(0.908,1)" font-size="10.0" fill="#000" font-weight="normal" text-anchor="start"  stroke="#000" stroke-width="0.2">30</text>
<text transform="translate(1423.3,794) scale(0.908,1)" font-size="10.0" fill="#000" font-weight="normal" text-anchor="start"  stroke="#000" stroke-width="0.2">0</text>
<text x="8.2" y="575" font-size="10.2" textLength="147.3" lengthAdjust="spacingAndGlyphs" stroke="#000" stroke-width="0.2">MACD(12,26,9) 0.001974 0.000237</text>
<text x="8.2" y="680" font-size="10.2" textLength="67.3" lengthAdjust="spacingAndGlyphs" stroke="#000" stroke-width="0.2">RSI(14) 65.0512</text>
<polygon points="7,32.5 14.5,32.5 10.75,28" fill="#000"/>
<text x="19.5" y="33" font-size="10.2" textLength="68.3" lengthAdjust="spacingAndGlyphs" stroke="#000" stroke-width="0.2">AUDUSD-,Daily</text>
<text x="93.8" y="33" font-size="10.2" textLength="141.2" lengthAdjust="spacingAndGlyphs" stroke="#000" stroke-width="0.2">0.68697 0.68818 0.68666 0.68736</text>
<text x="3.6" y="810" font-size="10.2" textLength="54" lengthAdjust="spacingAndGlyphs" stroke="#000" stroke-width="0.2">13 May 2019</text>
<text x="67.6" y="810" font-size="10.2" textLength="54.2" lengthAdjust="spacingAndGlyphs" stroke="#000" stroke-width="0.2">22 May 2019</text>
<text x="131.6" y="810" font-size="10.2" textLength="54.4" lengthAdjust="spacingAndGlyphs" stroke="#000" stroke-width="0.2">31 May 2019</text>
<text x="195.6" y="810" font-size="10.2" textLength="48.5" lengthAdjust="spacingAndGlyphs" stroke="#000" stroke-width="0.2">10 Jun 2019</text>
<text x="259.6" y="810" font-size="10.2" textLength="48.3" lengthAdjust="spacingAndGlyphs" stroke="#000" stroke-width="0.2">19 Jun 2019</text>
<text x="323.6" y="810" font-size="10.2" textLength="48.8" lengthAdjust="spacingAndGlyphs" stroke="#000" stroke-width="0.2">28 Jun 2019</text>
<text x="387.6" y="810" font-size="10.2" textLength="40.7" lengthAdjust="spacingAndGlyphs" stroke="#000" stroke-width="0.2">8 Jul 2019</text>
<text x="451.6" y="810" font-size="10.2" textLength="46.6" lengthAdjust="spacingAndGlyphs" stroke="#000" stroke-width="0.2">17 Jul 2019</text>
<text x="515.6" y="810" font-size="10.2" textLength="46.6" lengthAdjust="spacingAndGlyphs" stroke="#000" stroke-width="0.2">26 Jul 2019</text>
<text x="579.6" y="810" font-size="10.2" textLength="47.5" lengthAdjust="spacingAndGlyphs" stroke="#000" stroke-width="0.2">5 Aug 2019</text>
<text x="643.6" y="810" font-size="10.2" textLength="52.5" lengthAdjust="spacingAndGlyphs" stroke="#000" stroke-width="0.2">14 Aug 2019</text>
<text x="707.6" y="810" font-size="10.2" textLength="52.5" lengthAdjust="spacingAndGlyphs" stroke="#000" stroke-width="0.2">23 Aug 2019</text>
<text x="771.6" y="810" font-size="10.2" textLength="46.6" lengthAdjust="spacingAndGlyphs" stroke="#000" stroke-width="0.2">2 Sep 2019</text>
<text x="835.6" y="810" font-size="10.2" textLength="51.1" lengthAdjust="spacingAndGlyphs" stroke="#000" stroke-width="0.2">11 Sep 2019</text>
<text x="899.6" y="810" font-size="10.2" textLength="51.2" lengthAdjust="spacingAndGlyphs" stroke="#000" stroke-width="0.2">20 Sep 2019</text>
<text x="963.6" y="810" font-size="10.2" textLength="51.5" lengthAdjust="spacingAndGlyphs" stroke="#000" stroke-width="0.2">30 Sep 2019</text>
<text x="1027.6" y="810" font-size="10.2" textLength="45.2" lengthAdjust="spacingAndGlyphs" stroke="#000" stroke-width="0.2">9 Oct 2019</text>
<text x="1091.6" y="810" font-size="10.2" textLength="51" lengthAdjust="spacingAndGlyphs" stroke="#000" stroke-width="0.2">18 Oct 2019</text>
<text transform="translate(6.5,9) scale(0.99,1)" font-size="9.5" fill="#333" font-weight="normal" text-anchor="start" >H4</text>
<text transform="translate(35.5,9) scale(0.99,1)" font-size="9.5" fill="#333" font-weight="normal" text-anchor="start" >D1</text>
<text transform="translate(63,9) scale(0.99,1)" font-size="9.5" fill="#333" font-weight="normal" text-anchor="start" >W1</text>
<text transform="translate(89.5,9) scale(0.99,1)" font-size="9.5" fill="#333" font-weight="normal" text-anchor="start" >MN</text>
<g shape-rendering="crispEdges">
<rect x="7" y="41" width="52" height="25" fill="url(#gbtn)" />
<rect x="174" y="41" width="52" height="25" fill="url(#gbtn)" />
<rect x="7" y="65" width="109" height="40" fill="url(#gbig)" />
<rect x="118" y="65" width="108" height="40" fill="url(#gbig)" />
<rect x="7" y="41" width="52" height="1" fill="rgba(0,0,110,0.38)" />
<rect x="7" y="42" width="1" height="63" fill="rgba(0,0,110,0.38)" />
<rect x="8" y="104" width="108" height="1" fill="rgba(0,0,110,0.38)" />
<rect x="115" y="66" width="1" height="38" fill="rgba(0,0,110,0.38)" />
<rect x="58" y="42" width="1" height="24" fill="rgba(0,0,110,0.38)" />
<rect x="59" y="65" width="57" height="1" fill="rgba(0,0,110,0.38)" />
<rect x="174" y="41" width="52" height="1" fill="rgba(0,0,110,0.38)" />
<rect x="225" y="42" width="1" height="63" fill="rgba(0,0,110,0.38)" />
<rect x="118" y="104" width="107" height="1" fill="rgba(0,0,110,0.38)" />
<rect x="118" y="66" width="1" height="38" fill="rgba(0,0,110,0.38)" />
<rect x="174" y="42" width="1" height="24" fill="rgba(0,0,110,0.38)" />
<rect x="118" y="65" width="56" height="1" fill="rgba(0,0,110,0.38)" />
<rect x="11" y="64" width="44" height="1" fill="#1a1ab0" />
<rect x="11" y="65" width="44" height="1" fill="#7a7af4" />
<rect x="178" y="64" width="44" height="1" fill="#1a1ab0" />
<rect x="178" y="65" width="44" height="1" fill="#7a7af4" />
<rect x="61" y="41" width="112" height="22" fill="#ffffff" stroke="#ababab" stroke-width="1"/>
<rect x="62.5" y="42.5" width="20" height="19" fill="url(#gsp)" stroke="#b4b4b4" stroke-width="1"/>
<rect x="151.5" y="42.5" width="20" height="19" fill="url(#gsp)" stroke="#b4b4b4" stroke-width="1"/>
</g>
<polygon points="69.3,50.2 74.7,50.2 72,53.2" fill="#4a5cc0"/>
<polygon points="158.3,52.8 163.7,52.8 161,49.8" fill="#4a5cc0"/>
<text transform="translate(146.5,56) scale(1.0,1)" font-size="12" fill="#000" font-weight="normal" text-anchor="end" >1.00</text>
<text transform="translate(32.3,57) scale(0.9,1)" font-size="12" fill="#fff" font-weight="normal" text-anchor="middle" >SELL</text>
<text transform="translate(199.5,57) scale(0.95,1)" font-size="12" fill="#fff" font-weight="normal" text-anchor="middle" >BUY</text>
<text transform="translate(27,96) scale(1.03,1)" font-size="12" fill="#fff" font-weight="bold" text-anchor="start" >0.68</text>
<text transform="translate(137,96) scale(1.03,1)" font-size="12" fill="#fff" font-weight="bold" text-anchor="start" >0.68</text>
<text transform="translate(54.3,96) scale(0.915,1)" font-size="34.5" fill="#fff" font-weight="normal" text-anchor="start" >73</text>
<text transform="translate(164.8,96) scale(0.915,1)" font-size="34.5" fill="#fff" font-weight="normal" text-anchor="start" >75</text>
<text transform="translate(94,80) scale(1.08,1)" font-size="10.3" fill="#fff" font-weight="bold" text-anchor="start" >6</text>
<text transform="translate(205,80) scale(1.08,1)" font-size="10.3" fill="#fff" font-weight="bold" text-anchor="start" >9</text>
<g shape-rendering="crispEdges">
<rect x="0" y="820" width="114" height="1" fill="#000" />
<rect x="220" y="820" width="1243" height="1" fill="#000" />
<rect x="114" y="819" width="106" height="19" fill="#fff" />
<rect x="113" y="820" width="1" height="19" fill="#000" />
<rect x="220" y="820" width="1" height="19" fill="#000" />
<rect x="113" y="838" width="108" height="1" fill="#000" />
<rect x="113" y="839" width="108" height="1" fill="#e0e0e0" />
<rect x="0" y="820" width="1" height="20" fill="#696969" />
<rect x="329" y="824" width="1" height="13" fill="#808080" />
<rect x="437" y="824" width="1" height="13" fill="#808080" />
<rect x="549" y="824" width="1" height="13" fill="#808080" />
<rect x="669" y="824" width="1" height="13" fill="#808080" />
<rect x="793" y="824" width="1" height="13" fill="#808080" />
<rect x="889" y="824" width="1" height="13" fill="#808080" />
<rect x="969" y="824" width="1" height="13" fill="#808080" />
<rect x="1073" y="824" width="1" height="13" fill="#808080" />
<rect x="1165" y="824" width="1" height="13" fill="#808080" />
<rect x="1245" y="824" width="1" height="13" fill="#808080" />
</g>
<text x="16" y="835" font-size="13" fill="#7a7a7a" textLength="84" lengthAdjust="spacingAndGlyphs">EURUSD-,Daily</text>
<text x="233" y="835" font-size="13" fill="#7a7a7a" textLength="84" lengthAdjust="spacingAndGlyphs">USDCHF-,Daily</text>
<text x="340" y="835" font-size="13" fill="#7a7a7a" textLength="86" lengthAdjust="spacingAndGlyphs">USDCAD-,Daily</text>
<text x="449" y="835" font-size="13" fill="#7a7a7a" textLength="88" lengthAdjust="spacingAndGlyphs">USDCNH-,Daily</text>
<text x="560" y="835" font-size="13" fill="#7a7a7a" textLength="97" lengthAdjust="spacingAndGlyphs">EURCHF-,Weekly</text>
<text x="681" y="835" font-size="13" fill="#7a7a7a" textLength="100" lengthAdjust="spacingAndGlyphs">XAUUSD-,Weekly</text>
<text x="804" y="835" font-size="13" fill="#7a7a7a" textLength="73" lengthAdjust="spacingAndGlyphs">GBPUSD-,H1</text>
<text x="900.5" y="835" font-size="13" fill="#7a7a7a" textLength="56.5" lengthAdjust="spacingAndGlyphs">UKOil-,H1</text>
<text x="979" y="835" font-size="13" fill="#7a7a7a" textLength="83" lengthAdjust="spacingAndGlyphs">USDX-,Weekly</text>
<text x="1083.5" y="835" font-size="13" fill="#7a7a7a" textLength="70" lengthAdjust="spacingAndGlyphs">EURCHF-,H1</text>
<text x="1177" y="835" font-size="13" fill="#7a7a7a" textLength="55.5" lengthAdjust="spacingAndGlyphs">USOil-,H1</text>
<text x="124" y="835" font-size="13" fill="#000" textLength="86" lengthAdjust="spacingAndGlyphs">AUDUSD-,Daily</text>
<polygon points="1434.8,829 1438.2,826 1438.2,832" fill="#888"/>
<polygon points="1457.2,829 1453.8,826 1453.8,832" fill="#888"/>
</svg>
</body></html>
